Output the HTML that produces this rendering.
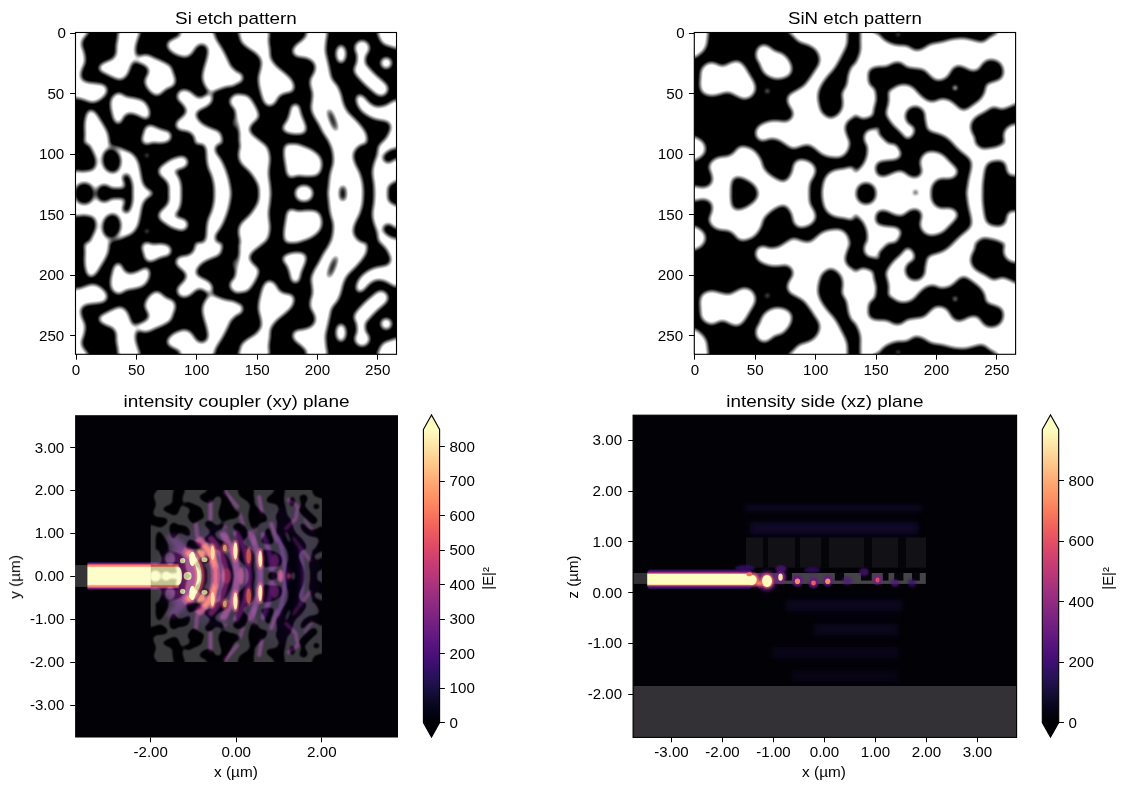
<!DOCTYPE html>
<html><head><meta charset="utf-8"><title>figure</title>
<style>
html,body{margin:0;padding:0;background:#fff;}
body{width:1124px;height:790px;overflow:hidden;}
svg{display:block;font-family:"Liberation Sans",sans-serif;fill:#000;}
</style></head><body>
<svg width="1124" height="790" viewBox="0 0 1124 790">
<rect x="0" y="0" width="1124" height="790" fill="#fff"/>
<defs>
<linearGradient id="magma" x1="0" y1="1" x2="0" y2="0">
<stop offset="0.00" stop-color="#000004"/>
<stop offset="0.05" stop-color="#06051a"/>
<stop offset="0.10" stop-color="#140e36"/>
<stop offset="0.15" stop-color="#251255"/>
<stop offset="0.20" stop-color="#3b0f70"/>
<stop offset="0.25" stop-color="#51127c"/>
<stop offset="0.30" stop-color="#641a80"/>
<stop offset="0.35" stop-color="#782281"/>
<stop offset="0.40" stop-color="#8c2981"/>
<stop offset="0.45" stop-color="#a1307e"/>
<stop offset="0.50" stop-color="#b73779"/>
<stop offset="0.55" stop-color="#ca3e72"/>
<stop offset="0.60" stop-color="#de4968"/>
<stop offset="0.65" stop-color="#ed5a5f"/>
<stop offset="0.70" stop-color="#f7705c"/>
<stop offset="0.75" stop-color="#fc8961"/>
<stop offset="0.80" stop-color="#fe9f6d"/>
<stop offset="0.85" stop-color="#feb77e"/>
<stop offset="0.90" stop-color="#fecf92"/>
<stop offset="0.95" stop-color="#fde7a9"/>
<stop offset="1.00" stop-color="#fcfdbf"/>
</linearGradient>
<filter id="sb12" filterUnits="userSpaceOnUse" x="140" y="480" width="195" height="192"><feGaussianBlur stdDeviation="1.3"/></filter>
<filter id="sb2" filterUnits="userSpaceOnUse" x="140" y="480" width="195" height="192"><feGaussianBlur stdDeviation="2.2"/></filter>
<filter id="b05" x="-50%" y="-50%" width="200%" height="200%"><feGaussianBlur stdDeviation="0.5"/></filter>
<filter id="b08" x="-50%" y="-50%" width="200%" height="200%"><feGaussianBlur stdDeviation="0.8"/></filter>
<filter id="b12" x="-50%" y="-50%" width="200%" height="200%"><feGaussianBlur stdDeviation="1.2"/></filter>
<filter id="b2" x="-50%" y="-50%" width="200%" height="200%"><feGaussianBlur stdDeviation="2.0"/></filter>
<filter id="b3" x="-50%" y="-50%" width="200%" height="200%"><feGaussianBlur stdDeviation="3.0"/></filter>
<filter id="b5" x="-50%" y="-50%" width="200%" height="200%"><feGaussianBlur stdDeviation="5.0"/></filter>
<filter id="b8" x="-50%" y="-50%" width="200%" height="200%"><feGaussianBlur stdDeviation="8.0"/></filter>
<clipPath id="ax3clip"><rect x="75.1" y="415.2" width="322.90" height="322.30"/></clipPath>
<clipPath id="ax4clip"><rect x="633.1" y="415.2" width="383.50" height="322.20"/></clipPath>
<clipPath id="dclip"><rect x="150.7" y="490.1" width="171.20" height="171.80"/></clipPath>
<linearGradient id="beamxy" x1="0" y1="0" x2="0" y2="1"><stop offset="0.0000" stop-color="#000004" stop-opacity="0"/><stop offset="0.0250" stop-color="#1d1147" stop-opacity="1"/><stop offset="0.0542" stop-color="#51127c" stop-opacity="1"/><stop offset="0.0833" stop-color="#b73779" stop-opacity="1"/><stop offset="0.1063" stop-color="#ee5b5e" stop-opacity="1"/><stop offset="0.1635" stop-color="#f9795d" stop-opacity="1"/><stop offset="0.1807" stop-color="#fec287" stop-opacity="1"/><stop offset="0.2118" stop-color="#fcfdbf" stop-opacity="1"/><stop offset="0.7882" stop-color="#fcfdbf" stop-opacity="1"/><stop offset="0.8193" stop-color="#fec287" stop-opacity="1"/><stop offset="0.8365" stop-color="#f9795d" stop-opacity="1"/><stop offset="0.8938" stop-color="#ee5b5e" stop-opacity="1"/><stop offset="0.9167" stop-color="#b73779" stop-opacity="1"/><stop offset="0.9458" stop-color="#51127c" stop-opacity="1"/><stop offset="0.9750" stop-color="#1d1147" stop-opacity="1"/><stop offset="1.0000" stop-color="#000004" stop-opacity="0"/></linearGradient>
<linearGradient id="beamxz" x1="0" y1="0" x2="0" y2="1"><stop offset="0.0000" stop-color="#000004" stop-opacity="0"/><stop offset="0.0614" stop-color="#1d1147" stop-opacity="1"/><stop offset="0.1330" stop-color="#51127c" stop-opacity="1"/><stop offset="0.2047" stop-color="#b73779" stop-opacity="1"/><stop offset="0.2140" stop-color="#ee5b5e" stop-opacity="1"/><stop offset="0.2372" stop-color="#f9795d" stop-opacity="1"/><stop offset="0.2442" stop-color="#fec287" stop-opacity="1"/><stop offset="0.2698" stop-color="#fcfdbf" stop-opacity="1"/><stop offset="0.7302" stop-color="#fcfdbf" stop-opacity="1"/><stop offset="0.7558" stop-color="#fec287" stop-opacity="1"/><stop offset="0.7628" stop-color="#f9795d" stop-opacity="1"/><stop offset="0.7860" stop-color="#ee5b5e" stop-opacity="1"/><stop offset="0.7953" stop-color="#b73779" stop-opacity="1"/><stop offset="0.8670" stop-color="#51127c" stop-opacity="1"/><stop offset="0.9386" stop-color="#1d1147" stop-opacity="1"/><stop offset="1.0000" stop-color="#000004" stop-opacity="0"/></linearGradient>
<radialGradient id="haze"><stop offset="0" stop-color="#641a80" stop-opacity="0.95"/><stop offset="0.45" stop-color="#51127c" stop-opacity="0.7"/><stop offset="0.8" stop-color="#3b0f70" stop-opacity="0.3"/><stop offset="1" stop-color="#140e36" stop-opacity="0"/></radialGradient>
</defs>
<rect x="75.5" y="32.5" width="321.00" height="321.80" fill="#fff"/>
<defs>
<clipPath id="si_ax"><rect x="75.5" y="32.5" width="321.00" height="321.80"/></clipPath>
<clipPath id="si_t0"><rect x="70" y="28" width="165.00" height="116.00"/></clipPath>
<clipPath id="si_t1"><rect x="235" y="28" width="165.00" height="116.00"/></clipPath>
<clipPath id="si_t2"><rect x="70" y="144" width="165.00" height="50.60"/></clipPath>
<clipPath id="si_t3"><rect x="235" y="144" width="165.00" height="50.60"/></clipPath>
<filter id="si_f" x="-5%" y="-5%" width="110%" height="110%" color-interpolation-filters="sRGB"><feGaussianBlur stdDeviation="2.8"/><feComponentTransfer><feFuncR type="linear" slope="1.5" intercept="-0.250"/><feFuncG type="linear" slope="1.5" intercept="-0.250"/><feFuncB type="linear" slope="1.5" intercept="-0.250"/></feComponentTransfer></filter>
<filter id="si_finv" x="-5%" y="-5%" width="110%" height="110%" color-interpolation-filters="sRGB"><feGaussianBlur stdDeviation="2.8"/><feComponentTransfer><feFuncR type="linear" slope="-1.5" intercept="1.250"/><feFuncG type="linear" slope="-1.5" intercept="1.250"/><feFuncB type="linear" slope="-1.5" intercept="1.250"/></feComponentTransfer></filter>
<g id="si_half">
<g clip-path="url(#si_t0)">
<path d="M72.2 29.2C74.9 17.9 86.2 28.2 88.5 29.2C90.9 30.1 87.3 33.2 86.4 34.8C85.4 36.5 83.7 37.5 82.8 39.1C82.0 40.8 81.2 42.4 81.4 44.8C81.6 47.2 83.7 50.5 84.3 53.4C84.8 56.2 85.4 59.0 85.0 61.9C84.5 64.7 82.1 67.8 81.4 70.4C80.7 73.0 80.1 75.7 80.7 77.6C81.3 79.4 82.8 80.9 85.0 81.8C87.1 82.8 90.4 82.8 93.5 83.2C96.6 83.7 101.2 83.7 103.5 84.7C105.7 85.6 106.7 87.3 107.0 88.9C107.4 90.6 106.9 92.7 105.6 94.6C104.3 96.5 101.5 99.0 99.2 100.3C96.9 101.6 94.7 102.6 92.1 102.5C89.5 102.3 86.4 100.5 83.5 99.6C80.7 98.7 76.9 97.7 75.0 97.2C73.1 96.7 72.6 108.1 72.2 96.8C71.7 85.4 69.4 40.4 72.2 29.2Z" fill="#fff"/>
<path d="M120.6 29.2C124.1 27.5 136.2 27.5 139.1 29.2C141.9 30.8 138.2 36.3 137.6 39.1C137.0 42.0 135.9 43.9 135.5 46.2C135.1 48.6 135.3 51.3 135.5 53.4C135.7 55.4 137.1 56.7 136.5 58.3C135.9 60.0 133.2 61.3 131.9 63.3C130.7 65.3 130.0 68.3 129.1 70.4C128.1 72.6 127.7 74.6 126.2 76.1C124.8 77.7 122.7 79.4 120.6 79.7C118.4 79.9 116.0 78.6 113.4 77.6C110.8 76.5 107.3 74.6 104.9 73.3C102.5 72.0 100.0 71.0 99.2 69.7C98.4 68.4 98.8 66.8 99.9 65.5C101.0 64.1 103.5 63.0 105.6 61.9C107.7 60.8 110.9 60.5 112.7 59.0C114.5 57.6 115.7 55.5 116.3 53.4C116.9 51.2 116.0 48.6 116.3 46.2C116.5 43.9 117.0 42.0 117.7 39.1C118.4 36.3 117.0 30.8 120.6 29.2Z" fill="#fff"/>
<path d="M136.5 57.6C138.3 56.6 143.1 54.7 146.2 54.8C149.2 54.9 151.9 57.1 154.7 58.3C157.6 59.5 160.6 60.6 163.3 61.9C165.9 63.2 168.7 64.3 170.4 66.2C172.0 68.1 172.4 70.9 173.2 73.3C174.1 75.7 175.4 78.3 175.4 80.4C175.4 82.5 174.8 84.7 173.2 86.1C171.7 87.5 168.2 87.6 166.1 88.9C164.0 90.2 162.1 92.9 160.4 93.9C158.7 95.0 157.8 95.7 156.1 95.3C154.5 95.0 152.1 93.3 150.4 91.8C148.8 90.2 147.1 88.0 146.2 86.1C145.2 84.2 144.5 82.3 144.8 80.4C145.0 78.5 146.9 76.4 147.6 74.7C148.3 73.0 149.3 71.9 149.0 70.4C148.8 69.0 147.6 67.3 146.2 66.2C144.8 65.0 142.3 64.1 140.5 63.3C138.7 62.5 136.2 62.1 135.5 61.2C134.8 60.2 134.7 58.7 136.5 57.6Z" fill="#fff"/>
<path d="M181.0 29.2C185.9 28.2 204.4 27.5 210.2 29.2C216.0 30.8 213.8 35.6 215.9 39.1C218.1 42.7 220.9 46.7 223.0 50.5C225.2 54.3 227.3 59.0 228.7 61.9C230.2 64.7 229.7 65.7 231.6 67.6C233.5 69.5 238.7 70.6 240.1 73.3C241.5 76.0 242.5 81.7 240.1 84.0C237.8 86.2 229.9 85.7 225.9 86.8C221.9 87.9 218.5 89.5 215.9 90.4C213.3 91.2 212.1 93.0 210.2 92.1C208.3 91.1 205.8 87.1 204.5 84.7C203.2 82.2 202.5 80.2 202.4 77.6C202.3 74.9 203.1 72.1 203.8 69.0C204.5 65.9 206.0 62.1 206.7 59.0C207.4 56.0 208.2 52.8 208.1 50.5C208.0 48.3 207.1 46.6 206.0 45.5C204.8 44.5 202.6 43.9 201.0 44.1C199.3 44.3 197.5 45.4 196.0 46.9C194.5 48.5 193.4 51.7 191.7 53.4C190.1 55.0 188.2 56.6 186.0 56.9C183.9 57.3 181.3 56.3 178.9 55.5C176.5 54.7 173.7 53.4 171.8 51.9C169.9 50.5 168.1 48.6 167.5 46.9C166.9 45.3 167.1 43.4 168.2 42.0C169.4 40.5 172.5 39.6 174.6 38.4C176.8 37.2 180.0 36.4 181.0 34.8C182.1 33.3 176.2 30.1 181.0 29.2Z" fill="#fff"/>
<path d="M177.5 94.6C177.8 93.3 178.4 91.9 179.6 91.1C180.8 90.2 182.8 89.5 184.6 89.7C186.4 89.8 188.4 90.6 190.3 91.8C192.2 93.0 194.3 95.7 196.0 96.8C197.7 97.8 198.6 98.4 200.3 98.2C201.9 98.0 204.3 96.2 206.0 95.3C207.6 94.5 209.2 92.8 210.2 92.9C211.3 93.0 212.1 94.6 212.4 96.1C212.6 97.5 212.5 100.1 211.7 101.8C210.8 103.4 209.3 104.7 207.4 106.0C205.5 107.3 202.2 108.4 200.3 109.6C198.4 110.8 196.5 111.6 196.0 113.1C195.5 114.7 196.2 116.9 197.4 118.8C198.6 120.7 200.7 122.9 203.1 124.5C205.5 126.2 209.0 127.6 211.7 128.8C214.3 130.0 217.1 130.2 218.8 131.6C220.4 133.1 221.4 134.3 221.6 137.3C221.9 140.4 224.2 148.0 220.2 150.1C216.2 152.3 201.7 152.3 197.4 150.1C193.1 148.0 196.0 140.4 194.6 137.3C193.1 134.3 191.3 132.8 188.9 131.6C186.5 130.5 182.5 131.1 180.3 130.2C178.2 129.4 176.7 128.1 176.1 126.7C175.5 125.2 175.8 123.2 176.8 121.7C177.7 120.1 180.2 118.8 181.8 117.4C183.3 116.0 185.3 114.6 186.0 113.1C186.7 111.7 186.7 110.5 186.0 108.9C185.3 107.2 183.2 104.8 181.8 103.2C180.3 101.5 178.2 100.3 177.5 98.9C176.8 97.5 177.1 95.9 177.5 94.6Z" fill="#fff"/>
<path d="M110.6 106.0C110.5 103.6 110.5 100.9 111.3 98.9C112.1 96.9 114.0 94.9 115.6 93.9C117.1 93.0 118.8 92.7 120.6 93.2C122.3 93.7 123.9 95.9 126.2 96.8C128.6 97.6 131.9 97.5 134.8 98.2C137.6 98.9 141.1 99.5 143.3 101.0C145.6 102.6 147.2 105.2 148.3 107.4C149.4 109.7 149.9 112.7 149.7 114.6C149.6 116.5 148.7 118.2 147.6 118.8C146.5 119.4 145.2 118.8 143.3 118.1C141.4 117.4 138.6 115.4 136.2 114.6C133.8 113.7 131.1 112.9 129.1 113.1C127.1 113.4 125.4 114.6 124.1 116.0C122.8 117.4 122.3 120.4 121.3 121.7C120.2 123.0 118.9 124.1 117.7 123.8C116.5 123.6 115.1 122.0 114.1 120.3C113.2 118.5 112.6 115.5 112.0 113.1C111.4 110.8 110.7 108.4 110.6 106.0Z" fill="#fff"/>
<path d="M85.7 117.4C86.2 115.3 86.9 112.9 87.8 111.7C88.8 110.5 89.9 109.7 91.4 110.0C92.8 110.4 94.7 111.9 96.4 113.9C98.0 115.8 99.7 119.0 101.3 121.7C103.0 124.4 105.1 127.6 106.3 130.2C107.5 132.8 108.2 134.0 108.5 137.3C108.7 140.7 111.4 148.0 107.7 150.1C104.1 152.3 90.2 152.8 86.4 150.1C82.6 147.5 85.2 138.8 85.0 134.5C84.7 130.2 84.6 127.4 84.7 124.5C84.8 121.7 85.2 119.5 85.7 117.4Z" fill="#fff"/>
<path d="M143.3 134.5C143.9 132.4 144.3 128.9 145.5 127.4C146.6 125.8 148.7 125.2 150.4 125.2C152.2 125.2 154.0 126.5 156.1 127.4C158.3 128.2 161.1 129.5 163.3 130.2C165.4 130.9 167.6 130.7 169.0 131.6C170.3 132.6 171.1 134.4 171.1 135.9C171.1 137.5 170.7 139.7 169.0 140.9C167.2 142.1 163.3 142.8 160.4 143.0C157.6 143.3 154.2 141.8 151.9 142.3C149.5 142.8 147.8 146.2 146.2 145.9C144.5 145.5 142.4 142.1 141.9 140.2C141.4 138.3 142.7 136.6 143.3 134.5Z" fill="#fff"/>
<path d="M240.1 94.6C238.9 92.4 234.7 95.1 233.0 96.1C231.3 97.0 230.1 98.7 229.9 100.3C229.6 102.0 229.9 104.5 231.6 106.0C233.3 107.6 238.7 111.5 240.1 109.6C241.5 107.7 241.3 96.9 240.1 94.6Z" fill="#fff"/>
<path d="M240.1 116.0C239.2 113.6 235.6 116.0 234.4 117.4C233.3 118.8 233.2 122.4 233.3 124.5C233.4 126.7 234.0 129.0 235.1 130.2C236.3 131.4 239.3 134.0 240.1 131.6C241.0 129.3 241.1 118.4 240.1 116.0Z" fill="#fff"/>
</g>
<g clip-path="url(#si_t1)">
<path d="M240.0 29.2C244.5 28.0 262.3 27.3 267.0 29.2C271.8 31.1 268.0 37.0 268.5 40.5C268.9 44.1 269.5 47.5 269.9 50.5C270.2 53.5 269.5 55.7 270.6 58.3C271.7 60.9 273.9 63.7 276.3 66.2C278.7 68.7 282.2 70.9 284.8 73.3C287.4 75.7 290.4 78.0 291.9 80.4C293.5 82.8 294.1 85.6 294.1 87.5C294.1 89.4 293.5 90.8 291.9 91.8C290.4 92.7 287.0 92.5 284.8 93.2C282.7 93.9 280.8 94.4 279.1 96.1C277.5 97.7 276.5 101.5 274.9 103.2C273.2 104.8 270.9 106.1 269.2 106.0C267.4 105.9 265.5 104.4 264.2 102.5C262.9 100.6 262.2 97.4 261.3 94.6C260.5 91.9 259.7 88.9 259.2 86.1C258.7 83.2 258.3 80.4 258.5 77.6C258.7 74.7 260.1 71.9 260.6 69.0C261.1 66.2 262.0 63.1 261.3 60.5C260.6 57.9 258.6 55.5 256.4 53.4C254.1 51.2 250.3 49.6 247.8 47.7C245.3 45.8 242.7 43.9 241.4 42.0C240.1 40.1 240.2 38.4 240.0 36.3C239.7 34.1 235.5 30.3 240.0 29.2Z" fill="#fff"/>
<path d="M230.7 73.3C232.2 71.4 237.3 72.0 239.3 72.6C241.3 73.2 242.5 75.3 242.8 76.8C243.2 78.4 242.7 80.6 241.4 81.8C240.1 83.0 236.8 83.6 235.0 84.0C233.2 84.3 231.4 85.7 230.7 84.0C230.0 82.2 229.3 75.2 230.7 73.3Z" fill="#fff"/>
<path d="M232.2 94.6C233.6 92.5 238.1 94.4 240.7 94.6C243.3 94.9 245.7 94.6 247.8 96.1C249.9 97.5 251.8 100.6 253.5 103.2C255.2 105.8 256.9 109.3 257.8 111.7C258.6 114.1 259.3 115.5 258.5 117.4C257.7 119.3 254.3 121.2 252.8 123.1C251.3 125.0 249.4 126.9 249.2 128.8C249.1 130.7 250.4 132.6 252.1 134.5C253.7 136.4 256.9 138.3 259.2 140.2C261.5 142.1 264.5 144.2 265.6 145.9C266.7 147.5 269.5 149.4 265.6 150.1C261.7 150.9 246.5 153.2 242.1 150.1C237.7 147.1 240.2 137.1 239.3 131.6C238.3 126.2 237.3 121.4 236.4 117.4C235.6 113.4 235.0 109.1 234.3 107.4C233.6 105.8 232.5 109.6 232.2 107.4C231.8 105.3 230.7 96.8 232.2 94.6Z" fill="#fff"/>
<path d="M294.8 103.9C296.1 103.8 298.0 104.2 299.1 106.0C300.1 107.8 300.2 111.7 301.2 114.6C302.1 117.4 303.9 120.5 304.8 123.1C305.6 125.7 306.6 128.4 306.2 130.2C305.7 132.0 304.3 133.2 301.9 133.8C299.5 134.4 294.9 134.3 291.9 133.8C289.0 133.3 285.7 132.1 284.1 130.9C282.6 129.7 282.2 128.3 282.7 126.7C283.2 125.0 285.8 123.2 287.0 121.0C288.1 118.7 289.1 115.5 289.8 113.1C290.5 110.8 290.4 108.3 291.2 106.7C292.1 105.2 293.5 104.0 294.8 103.9Z" fill="#fff"/>
<path d="M306.9 29.2C310.1 28.2 322.9 27.3 326.1 29.2C329.3 31.1 326.2 37.0 326.1 40.5C326.0 44.1 325.2 47.2 325.4 50.5C325.6 53.8 326.8 57.1 327.5 60.5C328.2 63.8 329.0 67.3 329.7 70.4C330.4 73.5 330.5 76.4 331.8 79.0C333.1 81.6 335.9 83.5 337.5 86.1C339.0 88.7 340.1 91.8 341.0 94.6C342.0 97.5 342.1 100.3 343.2 103.2C344.3 106.0 345.3 108.9 347.5 111.7C349.6 114.6 353.4 117.4 356.0 120.3C358.6 123.1 361.3 126.2 363.1 128.8C364.9 131.4 366.1 133.3 366.7 135.9C367.3 138.5 366.8 142.1 366.7 144.5C366.6 146.8 371.8 149.2 366.0 150.1C360.1 151.1 338.0 151.6 331.8 150.1C325.6 148.7 330.4 144.5 329.0 141.6C327.5 138.8 324.9 135.9 323.3 133.1C321.6 130.2 320.4 127.1 319.0 124.5C317.6 121.9 316.0 120.0 314.7 117.4C313.4 114.8 311.6 111.5 311.2 108.9C310.7 106.3 311.6 104.4 311.9 101.8C312.1 99.1 312.8 95.8 312.6 93.2C312.3 90.6 310.8 88.5 310.4 86.1C310.1 83.7 309.9 81.1 310.4 79.0C311.0 76.8 313.2 75.4 314.0 73.3C314.8 71.1 315.8 68.3 315.4 66.2C315.1 64.0 313.6 61.9 311.9 60.5C310.1 59.0 307.4 58.3 304.8 57.6C302.1 56.9 298.2 57.1 296.2 56.2C294.2 55.3 292.9 53.6 292.7 51.9C292.4 50.3 293.2 48.1 294.8 46.2C296.3 44.3 299.9 42.4 301.9 40.5C303.9 38.6 306.1 36.7 306.9 34.8C307.7 32.9 303.7 30.1 306.9 29.2Z" fill="#fff"/>
<ellipse cx="332.5" cy="120.0" rx="2.7" ry="12.1" fill="#000" transform="rotate(-21 332.5 120.0)"/>
<path d="M356.0 98.9C356.0 96.8 357.5 95.0 358.8 94.6C360.1 94.3 362.2 95.5 363.8 96.8C365.5 98.1 366.8 100.8 368.8 102.5C370.8 104.1 373.3 106.1 375.9 106.7C378.5 107.3 380.4 106.7 384.5 106.0C388.5 105.3 397.5 95.1 400.1 102.5C402.7 109.8 403.9 142.2 400.1 150.1C396.3 158.1 380.9 150.9 377.3 150.1C373.8 149.4 377.3 147.5 378.8 145.6C380.2 143.6 384.0 141.0 385.9 138.5C387.8 135.9 389.3 132.3 390.2 130.2C391.0 128.1 391.2 127.4 390.9 126.0C390.5 124.5 389.3 122.6 388.0 121.7C386.7 120.8 385.3 121.0 383.0 120.5C380.8 120.1 377.3 119.8 374.5 118.8C371.7 117.8 368.6 116.5 366.0 114.6C363.4 112.7 360.5 110.1 358.8 107.4C357.2 104.8 356.0 101.0 356.0 98.9Z" fill="#fff"/>
<ellipse cx="341.0" cy="54.1" rx="5.0" ry="9.0" fill="#fff"/>
<ellipse cx="362.1" cy="48.1" rx="7.5" ry="7.5" fill="#fff"/>
<path d="M361.4 53.4C361.3 55.5 360.8 64.0 360.7 66.2" fill="none" stroke="#fff" stroke-width="8.26" stroke-linecap="round" stroke-linejoin="round"/>
<path d="M361.0 69.7C362.5 71.4 366.9 76.5 370.2 79.7C373.6 82.9 379.1 87.4 380.9 88.9" fill="none" stroke="#fff" stroke-width="14.23" stroke-linecap="round" stroke-linejoin="round"/>
<ellipse cx="386.2" cy="63.0" rx="5.6" ry="5.6" fill="#fff"/>
<path d="M378.8 29.2C375.3 30.6 378.8 35.3 379.5 37.7C380.2 40.1 381.3 42.0 383.0 43.4C384.8 44.8 387.3 45.5 390.2 46.2C393.0 46.9 398.5 50.5 400.1 47.7C401.8 44.8 403.7 32.2 400.1 29.2C396.6 26.1 382.2 27.7 378.8 29.2Z" fill="#fff"/>
</g>
<g clip-path="url(#si_t2)">
<path d="M72.2 173.4C74.1 168.0 80.0 172.3 83.5 171.7C87.1 171.1 91.4 171.1 93.5 169.6C95.6 168.1 96.1 165.1 96.4 162.7C96.6 160.4 95.9 158.2 94.9 155.6C94.0 153.0 92.0 149.9 90.7 147.1C89.4 144.2 87.9 141.9 87.1 138.5C86.3 135.2 82.1 129.1 85.7 127.2C89.2 125.3 104.7 125.5 108.5 127.2C112.2 128.8 108.6 134.3 108.5 137.1C108.3 140.0 105.7 142.5 107.5 144.2C109.2 146.0 116.4 146.8 119.1 147.8C121.9 148.7 121.9 149.0 124.0 149.9C126.1 150.8 129.4 151.4 131.7 153.2C133.9 155.0 136.2 157.8 137.6 160.9C139.1 164.0 139.5 168.1 140.3 171.7C141.1 175.3 141.4 179.8 142.5 182.7C143.6 185.6 145.3 187.4 146.9 189.1C148.5 190.7 151.0 190.1 151.9 192.6C152.7 195.1 165.2 202.1 151.9 204.0C138.6 205.9 85.4 209.1 72.2 204.0C58.9 198.9 70.3 178.8 72.2 173.4Z" fill="#fff"/>
<ellipse cx="111.6" cy="160.6" rx="9.5" ry="12.5" fill="#000" transform="rotate(-8 111.6 160.6)"/>
<ellipse cx="84.3" cy="192.6" rx="10.2" ry="10.2" fill="#000"/>
<ellipse cx="104.2" cy="192.6" rx="8.1" ry="8.1" fill="#000"/>
<path d="M126.2 177.7C126.7 179.1 128.5 181.8 128.8 186.2C129.2 190.6 128.5 201.1 128.4 204.0" fill="none" stroke="#000" stroke-width="7.97" stroke-linecap="round" stroke-linejoin="round"/>
<path d="M110.6 192.6C113.4 192.6 124.8 192.6 127.7 192.6" fill="none" stroke="#000" stroke-width="9.11" stroke-linecap="round" stroke-linejoin="round"/>
<path d="M143.3 124.3C147.9 121.9 165.8 122.6 170.4 124.3C174.9 126.0 171.1 131.5 170.7 134.3C170.2 137.0 169.2 139.4 167.5 140.7C165.8 142.0 163.0 141.9 160.4 142.1C157.8 142.3 154.2 141.7 151.9 142.1C149.5 142.5 147.6 144.8 146.2 144.2C144.7 143.6 143.5 141.9 143.0 138.5C142.6 135.2 138.8 126.7 143.3 124.3Z" fill="#fff"/>
<path d="M182.0 162.2C180.6 162.6 176.2 163.4 173.2 164.9C170.3 166.4 165.9 170.2 164.4 171.3" fill="none" stroke="#fff" stroke-width="11.67" stroke-linecap="round" stroke-linejoin="round"/>
<path d="M166.1 172.0C167.3 173.3 171.7 177.3 173.2 179.8C174.7 182.3 174.8 182.9 175.1 186.9C175.3 191.0 174.7 201.2 174.6 204.0" fill="none" stroke="#fff" stroke-width="12.24" stroke-linecap="round" stroke-linejoin="round"/>
<path d="M198.8 127.2C195.5 129.1 199.8 135.0 201.0 138.5C202.2 142.1 205.0 145.2 206.0 148.5C206.9 151.8 206.3 155.4 206.7 158.5C207.0 161.6 207.3 164.2 208.1 167.0C208.9 169.9 210.7 172.7 211.7 175.6C212.6 178.4 213.3 181.1 213.8 184.1C214.3 187.1 214.4 190.0 214.5 193.3C214.6 196.7 211.8 202.2 214.5 204.0C217.2 205.8 228.1 205.8 230.9 204.0C233.6 202.2 231.0 196.2 230.9 193.3C230.8 190.5 230.6 189.7 230.2 186.9C229.7 184.2 229.0 180.3 228.0 177.0C227.1 173.7 225.8 170.1 224.5 167.0C223.2 163.9 221.7 161.1 220.2 158.5C218.7 155.9 215.9 153.5 215.2 151.4C214.5 149.2 215.1 147.8 215.9 145.7C216.8 143.5 219.4 141.6 220.2 138.5C221.0 135.5 224.5 129.1 220.9 127.2C217.3 125.3 202.2 125.3 198.8 127.2Z" fill="#fff"/>
</g>
<g clip-path="url(#si_t3)">
<path d="M241.4 125.7C242.8 124.5 246.3 126.2 249.2 128.6C252.2 130.9 256.2 136.9 259.2 140.0C262.2 143.0 265.2 144.0 267.0 147.1C268.8 150.2 269.6 154.2 269.9 158.5C270.1 162.7 268.5 168.4 268.5 172.7C268.5 177.0 269.5 180.7 269.9 184.1C270.2 187.5 270.5 190.0 270.6 193.3C270.7 196.7 272.5 202.2 270.6 204.0C268.7 205.8 261.1 205.8 259.2 204.0C257.3 202.2 259.4 196.7 259.2 193.3C259.0 190.0 259.2 187.5 257.8 184.1C256.4 180.7 253.5 176.3 250.7 172.7C247.8 169.1 242.7 165.8 240.7 162.7C238.7 159.7 238.6 157.3 238.6 154.2C238.6 151.1 240.3 147.3 240.7 144.2C241.0 141.2 240.6 138.8 240.7 135.7C240.8 132.6 240.0 126.9 241.4 125.7Z" fill="#fff"/>
<path d="M284.1 148.5C284.5 146.4 284.9 145.2 286.2 144.2C287.6 143.3 289.3 142.6 291.9 142.8C294.5 143.0 298.6 144.5 301.9 145.7C305.2 146.8 309.0 148.3 311.9 149.9C314.7 151.6 317.3 153.5 319.0 155.6C320.6 157.8 321.6 160.1 321.8 162.7C322.1 165.3 321.4 169.1 320.4 171.3C319.5 173.4 318.5 174.7 316.1 175.6C313.8 176.4 309.3 176.3 306.2 176.3C303.1 176.3 300.2 175.3 297.6 175.6C295.0 175.8 292.3 177.9 290.5 177.7C288.7 177.4 287.8 176.1 287.0 174.1C286.1 172.1 286.0 168.4 285.5 165.6C285.1 162.7 284.3 159.9 284.1 157.0C283.9 154.2 283.8 150.6 284.1 148.5Z" fill="#fff"/>
<ellipse cx="304.0" cy="192.6" rx="8.8" ry="7.4" fill="#fff"/>
<path d="M319.0 124.6C306.2 126.0 321.6 130.3 323.3 133.1C324.9 136.0 327.4 138.6 329.0 141.7C330.5 144.7 331.8 147.8 332.5 151.4C333.2 154.9 333.6 159.2 333.2 162.7C332.9 166.3 331.1 169.4 330.4 172.7C329.7 176.0 329.3 179.3 329.0 182.7C328.6 186.0 328.4 189.1 328.2 192.6C328.1 196.2 316.3 202.1 328.2 204.0C340.2 205.9 388.1 217.3 400.1 204.0C412.1 190.8 413.6 137.8 400.1 124.6C386.6 111.4 331.8 123.2 319.0 124.6Z" fill="#fff"/>
<path d="M383.8 124.3C386.2 125.0 390.5 126.2 390.9 128.6C391.2 130.9 387.9 135.7 385.9 138.5C383.9 141.4 380.2 143.0 378.8 145.7C377.3 148.3 378.2 151.1 377.3 154.2C376.5 157.3 374.6 161.1 373.8 164.2C373.0 167.2 372.4 169.6 372.4 172.7C372.4 175.8 373.4 179.3 373.8 182.7C374.1 186.0 374.4 189.1 374.5 192.6C374.6 196.2 376.4 202.1 374.5 204.0C372.6 205.9 365.0 205.9 363.1 204.0C361.2 202.1 363.2 196.2 363.1 192.6C363.0 189.1 363.0 186.0 362.4 182.7C361.8 179.3 360.7 175.8 359.6 172.7C358.4 169.6 356.4 167.0 355.3 164.2C354.2 161.3 353.0 158.2 353.1 155.6C353.3 153.0 354.3 150.6 356.0 148.5C357.7 146.4 361.3 144.9 363.1 142.8C364.9 140.7 366.0 138.1 366.7 135.7C367.4 133.3 365.8 130.5 367.4 128.6C368.9 126.7 373.2 125.0 375.9 124.3C378.7 123.6 381.3 123.6 383.8 124.3Z" fill="#000"/>
<ellipse cx="342.8" cy="192.6" rx="3.4" ry="7.1" fill="#000"/>
<path d="M400.1 152.8C398.9 153.0 395.0 153.4 393.0 154.2C391.0 155.0 388.9 157.2 388.0 157.8" fill="none" stroke="#000" stroke-width="10.68" stroke-linecap="round" stroke-linejoin="round"/>
<path d="M400.1 182.0C398.7 178.5 393.6 182.6 391.6 183.4C389.6 184.2 388.7 185.4 388.0 186.9C387.4 188.5 387.7 189.8 387.6 192.6C387.5 195.5 385.5 202.1 387.6 204.0C389.7 205.9 398.0 207.7 400.1 204.0C402.2 200.3 401.5 185.4 400.1 182.0Z" fill="#000"/>
</g>
</g>
<g id="si_full">
<rect x="65.5" y="22.5" width="341.00" height="341.80" fill="#000"/>
<use href="#si_half"/>
<use href="#si_half" transform="translate(0 386.80) scale(1 -1)"/>
</g>
</defs>
<g clip-path="url(#si_ax)"><g filter="url(#si_f)"><use href="#si_full"/></g></g>
<circle cx="146.9" cy="155.6" r="2.0" fill="#3c3c3c" filter="url(#b08)"/>
<circle cx="146.9" cy="231.2" r="2.0" fill="#3c3c3c" filter="url(#b08)"/>
<rect x="75.5" y="32.5" width="321.00" height="321.80" fill="none" stroke="#000" stroke-width="1.11"/>
<line x1="76.50" y1="354.30" x2="76.50" y2="359.66" stroke="#000" stroke-width="1"/>
<line x1="70.14" y1="33.50" x2="75.50" y2="33.50" stroke="#000" stroke-width="1"/>
<line x1="136.50" y1="354.30" x2="136.50" y2="359.66" stroke="#000" stroke-width="1"/>
<line x1="70.14" y1="93.50" x2="75.50" y2="93.50" stroke="#000" stroke-width="1"/>
<line x1="196.50" y1="354.30" x2="196.50" y2="359.66" stroke="#000" stroke-width="1"/>
<line x1="70.14" y1="154.50" x2="75.50" y2="154.50" stroke="#000" stroke-width="1"/>
<line x1="257.50" y1="354.30" x2="257.50" y2="359.66" stroke="#000" stroke-width="1"/>
<line x1="70.14" y1="214.50" x2="75.50" y2="214.50" stroke="#000" stroke-width="1"/>
<line x1="317.50" y1="354.30" x2="317.50" y2="359.66" stroke="#000" stroke-width="1"/>
<line x1="70.14" y1="275.50" x2="75.50" y2="275.50" stroke="#000" stroke-width="1"/>
<line x1="377.50" y1="354.30" x2="377.50" y2="359.66" stroke="#000" stroke-width="1"/>
<line x1="70.14" y1="335.50" x2="75.50" y2="335.50" stroke="#000" stroke-width="1"/>
<rect x="694.3" y="32.5" width="321.30" height="321.80" fill="#fff"/>
<defs>
<clipPath id="sin_ax"><rect x="694.3" y="32.5" width="321.30" height="321.80"/></clipPath>
<clipPath id="sin_t0"><rect x="690" y="28" width="164.00" height="116.00"/></clipPath>
<clipPath id="sin_t1"><rect x="854" y="28" width="166.00" height="116.00"/></clipPath>
<clipPath id="sin_t2"><rect x="690" y="144" width="164.00" height="50.60"/></clipPath>
<clipPath id="sin_t3"><rect x="854" y="144" width="166.00" height="50.60"/></clipPath>
<filter id="sin_f" x="-5%" y="-5%" width="110%" height="110%" color-interpolation-filters="sRGB"><feGaussianBlur stdDeviation="2.8"/><feComponentTransfer><feFuncR type="linear" slope="1.5" intercept="-0.250"/><feFuncG type="linear" slope="1.5" intercept="-0.250"/><feFuncB type="linear" slope="1.5" intercept="-0.250"/></feComponentTransfer></filter>
<filter id="sin_finv" x="-5%" y="-5%" width="110%" height="110%" color-interpolation-filters="sRGB"><feGaussianBlur stdDeviation="2.8"/><feComponentTransfer><feFuncR type="linear" slope="-1.5" intercept="1.250"/><feFuncG type="linear" slope="-1.5" intercept="1.250"/><feFuncB type="linear" slope="-1.5" intercept="1.250"/></feComponentTransfer></filter>
<g id="sin_half">
<g clip-path="url(#sin_t0)">
<path d="M691.2 29.2C693.8 24.5 704.4 27.7 707.1 29.2C709.8 30.6 707.7 34.8 707.5 37.7C707.4 40.5 707.2 43.7 706.1 46.2C705.0 48.8 703.6 51.3 701.1 53.1C698.6 54.8 692.8 60.9 691.2 56.9C689.5 52.9 688.5 33.8 691.2 29.2Z" fill="#fff"/>
<path d="M700.4 79.0C700.6 76.6 700.3 72.8 701.1 70.4C701.9 68.1 703.5 66.0 705.4 64.7C707.3 63.4 709.7 62.4 712.5 62.6C715.4 62.8 719.4 66.2 722.5 66.2C725.6 66.2 728.4 63.4 731.0 62.6C733.6 61.8 736.0 60.7 738.1 61.2C740.3 61.7 741.9 63.2 743.8 65.5C745.7 67.7 747.7 71.7 749.5 74.7C751.3 77.7 753.5 80.6 754.5 83.2C755.4 85.9 755.8 88.1 755.2 90.4C754.6 92.6 752.8 95.3 750.9 96.8C749.0 98.2 746.2 99.0 743.8 98.9C741.4 98.8 739.1 97.1 736.7 96.1C734.3 95.0 732.0 93.0 729.6 92.5C727.2 92.0 724.8 92.7 722.5 93.2C720.1 93.7 717.7 95.0 715.4 95.3C713.0 95.7 710.5 95.9 708.2 95.3C706.0 94.8 703.2 93.6 701.8 91.8C700.5 90.0 700.2 86.8 700.0 84.7C699.7 82.5 700.2 81.3 700.4 79.0Z" fill="#fff"/>
<path d="M755.9 53.4C756.2 51.5 756.8 49.1 758.1 47.7C759.4 46.2 761.9 44.9 763.8 44.8C765.6 44.7 767.5 45.9 769.4 46.9C771.3 48.0 773.0 50.1 775.1 51.2C777.3 52.3 780.1 52.0 782.3 53.4C784.4 54.7 786.4 56.9 788.0 59.0C789.5 61.2 791.0 63.8 791.5 66.2C792.0 68.5 791.9 71.4 790.8 73.3C789.7 75.2 787.5 76.6 785.1 77.6C782.7 78.5 779.4 79.2 776.6 79.0C773.7 78.7 770.4 77.6 768.0 76.1C765.6 74.7 763.8 72.6 762.3 70.4C760.9 68.3 760.4 65.2 759.5 63.3C758.5 61.4 757.2 60.7 756.6 59.0C756.0 57.4 755.7 55.3 755.9 53.4Z" fill="#fff"/>
<path d="M792.2 29.2C781.3 30.3 792.5 34.1 793.6 36.3C794.8 38.4 797.0 40.5 799.3 42.0C801.7 43.4 805.3 43.6 807.9 44.8C810.5 46.0 813.1 47.2 815.0 49.1C816.9 51.0 818.6 53.8 819.3 56.2C820.0 58.6 820.0 60.9 819.3 63.3C818.6 65.7 816.7 67.8 815.0 70.4C813.3 73.0 811.2 76.4 809.3 79.0C807.4 81.6 805.7 84.2 803.6 86.1C801.5 88.0 798.9 88.9 796.5 90.4C794.1 91.8 790.9 93.0 789.4 94.6C787.8 96.3 787.2 98.4 787.2 100.3C787.2 102.2 788.4 104.1 789.4 106.0C790.3 107.9 792.5 109.8 792.9 111.7C793.4 113.6 793.3 115.7 792.2 117.4C791.2 119.1 788.7 121.1 786.5 121.7C784.4 122.3 782.0 121.1 779.4 121.0C776.8 120.8 774.0 120.4 770.9 121.0C767.8 121.6 763.4 123.0 760.9 124.5C758.4 126.1 756.6 128.1 755.9 130.2C755.2 132.4 755.6 135.6 756.6 137.3C757.7 139.1 760.0 140.7 762.3 140.9C764.7 141.1 768.0 138.6 770.9 138.5C773.7 138.4 776.8 139.0 779.4 140.2C782.0 141.4 785.3 144.2 786.5 145.9C787.7 147.5 774.4 149.4 786.5 150.1C798.6 150.9 847.0 170.3 859.1 150.1C871.2 130.0 870.3 49.3 859.1 29.2C848.0 9.0 803.1 28.0 792.2 29.2Z" fill="#fff"/>
<path d="M848.4 29.2C846.4 31.5 848.1 39.1 847.0 43.4C846.0 47.7 844.1 50.7 842.0 54.8C840.0 58.8 837.5 63.8 834.9 67.6C832.3 71.4 828.9 74.2 826.4 77.6C823.9 80.9 821.4 84.4 820.0 87.5C818.6 90.6 818.0 93.0 817.8 96.1C817.7 99.1 818.6 103.2 819.3 106.0C820.0 108.9 820.5 111.1 822.1 113.1C823.8 115.2 826.9 117.6 829.2 118.1C831.6 118.6 834.2 117.5 836.3 116.0C838.5 114.4 841.0 111.5 842.0 108.9C843.1 106.3 842.8 102.9 842.8 100.3C842.8 97.7 841.4 95.6 842.0 93.2C842.6 90.8 845.4 88.5 846.3 86.1C847.3 83.7 847.3 81.3 847.7 79.0C848.2 76.6 848.1 74.5 849.2 71.9C850.2 69.2 852.3 65.2 854.0 63.3C855.7 61.4 858.3 66.2 859.1 60.5C860.0 54.8 860.9 34.4 859.1 29.2C857.3 23.9 850.5 26.8 848.4 29.2Z" fill="#000"/>
<path d="M859.1 116.0C858.3 110.5 855.8 116.7 854.0 117.4C852.2 118.1 850.0 118.6 848.4 120.3C846.9 121.9 845.1 124.8 844.9 127.4C844.7 130.0 846.1 133.1 847.0 135.9C848.0 138.8 850.0 142.1 850.6 144.5C851.2 146.8 849.2 149.2 850.6 150.1C852.0 151.1 857.7 155.8 859.1 150.1C860.5 144.5 860.0 121.4 859.1 116.0Z" fill="#000"/>
<path d="M691.2 137.1C692.6 135.3 697.4 138.2 699.7 139.5C701.9 140.7 703.8 142.7 704.7 144.5C705.5 146.2 706.9 149.2 704.7 150.1C702.4 151.1 693.4 152.3 691.2 150.1C688.9 148.0 689.7 138.8 691.2 137.1Z" fill="#fff"/>
</g>
<g clip-path="url(#sin_t1)">
<rect x="849" y="23" width="176.00" height="126.00" fill="#fff"/>
<path d="M878.9 29.2C860.4 30.1 878.6 32.9 879.6 34.8C880.7 36.8 882.7 39.1 885.3 40.8C887.9 42.5 891.7 44.3 895.3 45.1C898.8 45.9 903.3 44.9 906.7 45.8C910.0 46.7 912.5 50.0 915.2 50.5C917.9 51.0 920.4 49.9 923.0 48.8C925.6 47.7 927.7 45.2 930.9 44.1C934.1 43.0 938.5 42.8 942.3 42.0C946.1 41.1 949.8 39.7 953.6 39.1C957.4 38.5 961.5 38.1 965.0 38.4C968.6 38.7 972.1 40.2 975.0 40.8C977.8 41.5 979.9 42.7 982.1 42.2C984.4 41.8 987.0 40.2 988.5 38.0C990.0 35.8 1009.2 30.6 990.9 29.2C972.7 27.7 897.5 28.2 878.9 29.2Z" fill="#000"/>
<path d="M851.2 29.2C852.6 22.7 858.2 27.3 859.7 29.2C861.2 31.1 860.3 37.0 860.4 40.5C860.5 44.1 860.9 47.4 860.4 50.5C859.9 53.6 859.1 56.2 857.6 59.0C856.0 61.9 852.2 72.6 851.2 67.6C850.1 62.6 849.7 35.6 851.2 29.2Z" fill="#000"/>
<path d="M868.2 79.0C868.1 76.6 867.8 72.5 868.9 70.4C870.1 68.4 872.4 67.6 875.4 66.9C878.3 66.2 883.7 66.9 886.7 66.2C889.8 65.5 891.5 63.2 893.9 62.6C896.2 62.0 898.8 61.9 901.0 62.6C903.1 63.3 904.3 65.9 906.7 66.9C909.0 67.8 912.4 67.8 915.2 68.3C918.1 68.8 921.4 68.7 923.8 69.7C926.1 70.8 927.5 73.0 929.4 74.7C931.3 76.4 933.0 78.9 935.1 79.7C937.3 80.5 940.1 80.3 942.3 79.7C944.4 79.1 946.3 77.9 948.0 76.1C949.6 74.3 950.6 70.8 952.2 69.0C953.9 67.2 955.8 65.7 957.9 65.5C960.0 65.2 962.9 66.8 965.0 67.6C967.2 68.4 968.6 70.1 970.7 70.4C972.9 70.8 975.9 70.8 977.8 69.7C979.7 68.7 980.5 65.7 982.1 64.0C983.8 62.4 985.4 60.4 987.8 59.8C990.2 59.2 994.0 59.5 996.3 60.5C998.7 61.4 1000.9 63.3 1002.0 65.5C1003.2 67.6 1003.7 71.0 1003.5 73.3C1003.2 75.5 1002.3 77.6 1000.6 79.0C999.0 80.4 995.9 80.9 993.5 81.8C991.1 82.8 987.8 83.0 986.4 84.7C985.0 86.3 985.9 89.4 985.0 91.8C984.0 94.2 982.6 96.8 980.7 98.9C978.8 101.0 975.9 102.8 973.6 104.6C971.2 106.4 968.6 108.7 966.5 109.6C964.3 110.4 962.7 110.4 960.8 109.6C958.9 108.7 957.0 106.1 955.1 104.6C953.2 103.1 951.7 101.3 949.4 100.3C947.0 99.4 943.4 98.7 940.8 98.9C938.2 99.1 936.1 101.5 933.7 101.8C931.3 102.0 929.0 101.5 926.6 100.3C924.2 99.1 921.6 96.7 919.5 94.6C917.3 92.6 915.9 89.9 913.8 88.2C911.7 86.6 909.3 85.1 906.7 84.7C904.1 84.2 900.7 84.6 898.1 85.4C895.5 86.2 893.6 88.6 891.0 89.7C888.4 90.7 885.1 91.9 882.5 91.8C879.9 91.7 877.5 90.1 875.4 88.9C873.2 87.8 870.8 86.3 869.7 84.7C868.5 83.0 868.4 81.3 868.2 79.0Z" fill="#000"/>
<path d="M881.0 86.1C881.3 88.5 882.7 95.6 882.5 100.3C882.2 105.1 878.9 110.1 879.6 114.6C880.3 119.1 883.9 123.6 886.7 127.4C889.6 131.2 893.6 134.0 896.7 137.3C899.8 140.7 903.8 145.6 905.2 147.3" fill="none" stroke="#000" stroke-width="12.81" stroke-linecap="round" stroke-linejoin="round"/>
<path d="M851.2 115.3C853.1 110.1 858.7 118.7 862.5 118.8C866.3 119.0 870.6 115.3 873.9 116.0C877.3 116.7 882.2 121.0 882.5 123.1C882.7 125.2 877.7 127.6 875.4 128.8C873.0 130.0 870.1 129.0 868.2 130.2C866.3 131.4 864.6 133.3 864.0 135.9C863.4 138.5 866.8 143.5 864.7 145.9C862.5 148.3 853.4 155.3 851.2 150.1C848.9 145.0 849.3 120.5 851.2 115.3Z" fill="#000"/>
<ellipse cx="915.2" cy="116.3" rx="10.2" ry="10.2" fill="#000"/>
<path d="M882.5 123.1C883.7 119.3 884.6 128.1 886.7 130.2C888.9 132.4 892.4 134.4 895.3 135.9C898.1 137.5 901.2 139.2 903.8 139.5C906.4 139.7 909.2 138.6 910.9 137.3C912.7 136.0 914.0 133.5 914.5 131.6C915.0 129.7 913.4 127.4 913.8 126.0C914.1 124.5 914.7 124.1 916.6 123.1C918.5 122.2 923.3 119.1 925.2 120.3C927.1 121.4 925.6 127.5 928.0 129.8C930.4 132.1 936.3 132.8 939.4 134.1C942.5 135.4 943.7 135.5 946.5 137.6C949.4 139.8 954.8 144.3 956.5 146.9C958.2 149.4 969.3 152.0 956.5 153.0C943.7 154.0 892.0 158.0 879.6 153.0C867.3 148.0 881.3 126.9 882.5 123.1Z" fill="#000"/>
<path d="M872.2 139.0C873.3 140.2 876.4 143.4 878.9 145.9C881.4 148.3 886.0 152.4 887.5 153.7" fill="none" stroke="#fff" stroke-width="15.94" stroke-linecap="round" stroke-linejoin="round"/>
<path d="M970.7 124.5C971.3 122.2 972.6 119.5 975.0 117.4C977.4 115.3 981.9 113.5 985.0 111.7C988.0 109.9 990.7 107.2 993.5 106.7C996.3 106.3 999.2 109.2 1002.0 109.2C1004.9 109.1 1007.7 107.2 1010.6 106.3C1013.4 105.4 1017.7 101.1 1019.1 103.9C1020.5 106.7 1020.1 119.7 1019.1 123.1C1018.2 126.5 1015.4 123.5 1013.4 124.2C1011.4 125.0 1008.7 125.9 1007.0 127.7C1005.4 129.4 1004.1 131.0 1003.5 134.8C1002.9 138.5 1007.9 147.6 1003.5 150.1C999.1 152.7 981.9 152.0 977.1 150.1C972.4 148.3 975.9 141.8 975.0 138.8C974.0 135.7 972.1 134.0 971.4 131.6C970.7 129.3 970.1 126.9 970.7 124.5Z" fill="#000"/>
</g>
<g clip-path="url(#sin_t2)">
<path d="M691.2 137.1C692.8 133.8 698.7 138.2 701.1 140.0C703.5 141.7 705.2 145.2 705.4 147.8C705.6 150.4 704.9 153.6 702.5 155.6C700.2 157.6 693.1 163.0 691.2 159.9C689.3 156.8 689.5 140.4 691.2 137.1Z" fill="#fff"/>
<path d="M691.2 186.9C693.1 184.2 699.5 187.9 702.5 187.7C705.6 187.4 708.0 186.8 709.7 185.5C711.3 184.2 712.3 182.0 712.5 179.8C712.7 177.7 711.7 174.8 711.1 172.7C710.5 170.6 708.7 169.0 708.9 167.0C709.2 165.0 710.7 162.3 712.5 160.6C714.3 158.9 717.0 157.8 719.6 157.0C722.2 156.3 725.8 157.0 728.2 156.3C730.5 155.6 732.2 154.2 733.9 152.8C735.5 151.4 736.5 148.9 738.1 147.8C739.8 146.7 741.4 146.1 743.8 146.4C746.2 146.6 750.0 147.8 752.4 149.2C754.7 150.6 756.5 152.9 758.1 154.9C759.6 156.9 760.7 159.1 761.6 161.3C762.6 163.6 762.2 166.1 763.8 168.4C765.3 170.8 768.3 173.5 770.9 175.6C773.5 177.6 777.0 179.6 779.4 180.5C781.8 181.5 783.4 181.8 785.1 181.2C786.8 180.7 788.2 178.6 789.4 177.0C790.6 175.3 791.5 173.4 792.2 171.3C792.9 169.1 792.7 166.1 793.6 164.2C794.6 162.3 796.0 160.6 797.9 159.9C799.8 159.2 802.7 159.3 805.0 159.9C807.4 160.5 810.4 161.8 812.1 163.5C813.9 165.1 815.5 167.6 815.7 169.9C815.9 172.1 814.5 174.8 813.6 177.0C812.6 179.1 810.8 179.9 810.0 182.7C809.3 185.4 809.2 189.8 809.0 193.3C808.9 196.9 828.7 202.2 809.0 204.0C789.4 205.8 710.8 206.9 691.2 204.0C671.5 201.2 689.3 189.7 691.2 186.9Z" fill="#fff"/>
<path d="M732.4 179.8C733.7 177.2 735.8 177.0 738.1 177.0C740.5 177.0 743.9 178.4 746.7 179.8C749.4 181.2 752.6 183.4 754.5 185.5C756.4 187.7 758.1 190.3 758.1 192.6C758.1 195.0 756.4 197.6 754.5 199.8C752.6 201.9 749.4 204.0 746.7 205.4C743.9 206.9 740.5 208.3 738.1 208.3C735.8 208.3 733.7 208.1 732.4 205.4C731.2 202.8 730.7 196.9 730.7 192.6C730.7 188.4 731.2 182.4 732.4 179.8Z" fill="#000"/>
<path d="M755.2 125.7C740.4 126.9 755.2 130.7 755.9 132.8C756.6 135.0 757.7 137.2 759.5 138.5C761.3 139.8 764.2 140.8 766.6 140.7C769.0 140.6 771.3 138.1 773.7 137.8C776.1 137.6 778.7 138.1 780.8 139.3C783.0 140.4 784.4 143.4 786.5 144.9C788.7 146.5 791.0 148.4 793.6 148.5C796.3 148.6 799.6 146.3 802.2 145.7C804.8 145.1 807.2 144.5 809.3 144.9C811.4 145.4 812.9 147.0 815.0 148.5C817.1 150.0 819.5 152.8 822.1 154.2C824.7 155.6 827.6 156.6 830.7 157.0C833.7 157.5 838.0 157.8 840.6 157.0C843.2 156.3 844.9 154.7 846.3 152.8C847.7 150.9 848.9 148.3 849.2 145.7C849.4 143.0 848.4 140.4 847.7 137.1C847.0 133.8 860.3 127.6 844.9 125.7C829.5 123.8 770.0 124.5 755.2 125.7Z" fill="#fff"/>
<path d="M859.1 169.6C856.3 163.8 846.6 168.9 842.0 169.1C837.5 169.4 834.8 170.0 832.1 171.3C829.3 172.6 827.2 174.6 825.7 177.0C824.1 179.3 823.4 182.8 822.8 185.5C822.2 188.2 822.2 190.3 822.1 193.3C822.0 196.4 815.9 202.2 822.1 204.0C828.3 205.8 853.0 209.8 859.1 204.0C865.3 198.3 862.0 175.4 859.1 169.6Z" fill="#fff"/>
</g>
<g clip-path="url(#sin_t3)">
<rect x="849" y="139" width="176.00" height="60.60" fill="#fff"/>
<ellipse cx="866.1" cy="192.6" rx="10.2" ry="10.2" fill="#000"/>
<path d="M851.2 127.2C853.4 119.8 862.3 125.5 864.7 127.2C867.0 128.8 864.9 133.6 865.4 137.1C865.9 140.7 867.4 144.9 867.5 148.5C867.6 152.1 867.2 155.4 866.1 158.5C865.0 161.6 863.6 164.9 861.1 167.0C858.6 169.1 852.8 177.9 851.2 171.3C849.5 164.6 848.9 134.5 851.2 127.2Z" fill="#000"/>
<path d="M879.6 125.7C884.1 123.8 907.1 124.5 915.2 125.7C923.3 126.9 923.5 131.2 928.0 132.8C932.5 134.5 938.8 134.5 942.3 135.7C945.7 136.9 945.8 137.6 948.7 140.0C951.5 142.3 955.8 146.7 959.3 149.9C962.9 153.1 968.0 156.3 970.0 159.2C972.0 162.0 971.7 163.6 971.4 167.0C971.2 170.5 969.4 175.4 968.6 179.8C967.8 184.2 967.0 189.3 966.7 193.3C966.4 197.4 972.7 202.2 966.7 204.0C960.8 205.8 936.8 205.8 930.9 204.0C924.9 202.2 930.7 196.2 930.9 193.3C931.0 190.5 930.9 189.0 931.6 186.9C932.3 184.9 933.6 182.7 935.1 181.2C936.7 179.8 938.7 178.8 940.8 178.4C943.0 178.0 945.7 178.9 948.0 178.7C950.2 178.4 952.7 178.2 954.4 177.0C956.0 175.7 957.7 173.2 957.6 171.3C957.5 169.4 955.3 167.5 953.6 165.6C952.0 163.7 949.8 161.7 948.0 159.9C946.1 158.0 944.6 155.9 942.3 154.5C939.9 153.1 936.4 151.9 933.7 151.6C931.0 151.4 928.0 151.6 925.9 152.8C923.8 153.9 921.9 156.6 920.9 158.5C920.0 160.4 920.0 162.0 920.2 164.2C920.4 166.3 922.2 169.3 922.0 171.3C921.9 173.3 920.9 175.2 919.5 176.3C918.1 177.3 915.7 177.8 913.8 177.7C911.9 177.6 910.0 176.6 908.1 175.6C906.2 174.5 904.5 171.9 902.4 171.3C900.3 170.7 898.1 171.2 895.3 172.0C892.4 172.8 888.2 175.7 885.3 176.3C882.5 176.9 879.9 176.7 878.2 175.6C876.5 174.4 875.5 171.3 875.4 169.1C875.2 167.0 875.8 164.2 877.5 162.7C879.1 161.3 882.1 161.2 885.3 160.6C888.5 160.0 894.1 160.2 896.7 159.2C899.3 158.1 901.0 156.5 901.0 154.2C901.0 151.9 898.8 148.5 896.7 145.7C894.6 142.8 891.0 140.4 888.2 137.1C885.3 133.8 875.1 127.6 879.6 125.7Z" fill="#000"/>
<path d="M970.0 125.7C964.8 127.6 971.8 134.0 972.9 137.1C973.9 140.2 974.9 142.3 976.4 144.2C978.0 146.2 979.7 148.1 982.1 148.8C984.5 149.4 987.8 148.6 990.7 148.1C993.5 147.6 997.1 147.0 999.2 145.9C1001.3 144.9 1002.9 143.6 1003.5 141.7C1004.1 139.7 1002.6 136.9 1002.8 134.3C1002.9 131.6 1009.6 127.2 1004.2 125.7C998.7 124.3 975.2 123.8 970.0 125.7Z" fill="#000"/>
<path d="M982.5 204.0C976.4 202.2 982.5 196.7 982.5 193.3C982.6 190.0 982.5 187.5 982.8 184.1C983.1 180.7 983.7 175.9 984.2 172.7C984.8 169.5 985.1 166.8 986.4 164.9C987.7 163.0 989.7 162.0 992.1 161.3C994.5 160.6 998.4 160.1 1000.6 160.6C1002.9 161.1 1004.5 162.4 1005.6 164.2C1006.7 165.9 1006.2 169.4 1007.0 171.3C1007.9 173.2 1008.6 174.5 1010.6 175.6C1012.6 176.6 1017.7 172.9 1019.1 177.7C1020.5 182.4 1025.2 199.6 1019.1 204.0C1013.0 208.4 988.6 205.8 982.5 204.0Z" fill="#000"/>
</g>
</g>
<g id="sin_full">
<rect x="684.3" y="22.5" width="341.30" height="341.80" fill="#000"/>
<use href="#sin_half"/>
<use href="#sin_half" transform="translate(0 386.80) scale(1 -1)"/>
</g>
</defs>
<g clip-path="url(#sin_ax)"><g filter="url(#sin_f)"><use href="#sin_full"/></g></g>
<circle cx="767.3" cy="91.1" r="2.4" fill="#4a4a4a" filter="url(#b08)"/>
<circle cx="767.3" cy="295.7" r="2.4" fill="#3a3a3a" filter="url(#b08)"/>
<circle cx="955.1" cy="87.9" r="2.4" fill="#8c8c8c" filter="url(#b08)"/>
<circle cx="955.1" cy="298.9" r="2.4" fill="#5a5a5a" filter="url(#b08)"/>
<circle cx="915.5" cy="192.6" r="2.5" fill="#858585" filter="url(#b08)"/>
<circle cx="898.1" cy="34.6" r="2.0" fill="#3a3a3a" filter="url(#b08)"/>
<circle cx="898.1" cy="352.2" r="2.0" fill="#3a3a3a" filter="url(#b08)"/>
<rect x="694.3" y="32.5" width="321.30" height="321.80" fill="none" stroke="#000" stroke-width="1.11"/>
<line x1="694.50" y1="354.30" x2="694.50" y2="359.66" stroke="#000" stroke-width="1"/>
<line x1="688.94" y1="33.50" x2="694.30" y2="33.50" stroke="#000" stroke-width="1"/>
<line x1="755.50" y1="354.30" x2="755.50" y2="359.66" stroke="#000" stroke-width="1"/>
<line x1="688.94" y1="93.50" x2="694.30" y2="93.50" stroke="#000" stroke-width="1"/>
<line x1="815.50" y1="354.30" x2="815.50" y2="359.66" stroke="#000" stroke-width="1"/>
<line x1="688.94" y1="154.50" x2="694.30" y2="154.50" stroke="#000" stroke-width="1"/>
<line x1="876.50" y1="354.30" x2="876.50" y2="359.66" stroke="#000" stroke-width="1"/>
<line x1="688.94" y1="214.50" x2="694.30" y2="214.50" stroke="#000" stroke-width="1"/>
<line x1="936.50" y1="354.30" x2="936.50" y2="359.66" stroke="#000" stroke-width="1"/>
<line x1="688.94" y1="275.50" x2="694.30" y2="275.50" stroke="#000" stroke-width="1"/>
<line x1="996.50" y1="354.30" x2="996.50" y2="359.66" stroke="#000" stroke-width="1"/>
<line x1="688.94" y1="335.50" x2="694.30" y2="335.50" stroke="#000" stroke-width="1"/>
<rect x="75.1" y="415.2" width="322.90" height="322.30" fill="#020206"/>
<g clip-path="url(#ax3clip)">
<g clip-path="url(#dclip)">
<ellipse cx="218" cy="576.0" rx="70" ry="58" fill="url(#haze)" opacity="0.8"/>
<ellipse cx="285" cy="576.0" rx="35" ry="70" fill="#3b0f70" opacity="0.22" filter="url(#b8)"/>
<ellipse cx="180" cy="576.0" rx="20" ry="27" fill="#782281" opacity="0.75" filter="url(#b3)"/>
<ellipse cx="196" cy="576.0" rx="14" ry="30" fill="#b73779" opacity="0.55" filter="url(#b3)"/>
<path d="M210.5 501.9 L210.5 518.9" fill="none" stroke="#782281" stroke-width="4.0" stroke-linecap="round" stroke-linejoin="round" opacity="0.8" filter="url(#sb12)"/>
<path d="M210.5 650.1 L210.5 633.1" fill="none" stroke="#782281" stroke-width="4.0" stroke-linecap="round" stroke-linejoin="round" opacity="0.8" filter="url(#sb12)"/>
<path d="M225.1 492.2 L237.3 506.7" fill="none" stroke="#782281" stroke-width="4.0" stroke-linecap="round" stroke-linejoin="round" opacity="0.7" filter="url(#sb12)"/>
<path d="M225.1 659.8 L237.3 645.3" fill="none" stroke="#782281" stroke-width="4.0" stroke-linecap="round" stroke-linejoin="round" opacity="0.7" filter="url(#sb12)"/>
<path d="M259.1 497.0 L261.6 511.6" fill="none" stroke="#782281" stroke-width="4.0" stroke-linecap="round" stroke-linejoin="round" opacity="0.75" filter="url(#sb12)"/>
<path d="M259.1 655.0 L261.6 640.4" fill="none" stroke="#782281" stroke-width="4.0" stroke-linecap="round" stroke-linejoin="round" opacity="0.75" filter="url(#sb12)"/>
<path d="M271.3 523.8 L276.2 540.8" fill="none" stroke="#782281" stroke-width="4.0" stroke-linecap="round" stroke-linejoin="round" opacity="0.8" filter="url(#sb12)"/>
<path d="M271.3 628.2 L276.2 611.2" fill="none" stroke="#782281" stroke-width="4.0" stroke-linecap="round" stroke-linejoin="round" opacity="0.8" filter="url(#sb12)"/>
<path d="M254.3 528.6 L254.3 543.2" fill="none" stroke="#8c2981" stroke-width="4.0" stroke-linecap="round" stroke-linejoin="round" opacity="0.9" filter="url(#sb12)"/>
<path d="M254.3 623.4 L254.3 608.8" fill="none" stroke="#8c2981" stroke-width="4.0" stroke-linecap="round" stroke-linejoin="round" opacity="0.9" filter="url(#sb12)"/>
<path d="M225.1 527.4 L227.5 535.9" fill="none" stroke="#782281" stroke-width="4.0" stroke-linecap="round" stroke-linejoin="round" opacity="0.8" filter="url(#sb12)"/>
<path d="M225.1 624.6 L227.5 616.1" fill="none" stroke="#782281" stroke-width="4.0" stroke-linecap="round" stroke-linejoin="round" opacity="0.8" filter="url(#sb12)"/>
<path d="M288.3 499.5 L298.0 506.7 L295.6 518.9 L285.9 528.6" fill="none" stroke="#782281" stroke-width="3.5" stroke-linecap="round" stroke-linejoin="round" opacity="0.7" filter="url(#sb12)"/>
<path d="M288.3 652.5 L298.0 645.3 L295.6 633.1 L285.9 623.4" fill="none" stroke="#782281" stroke-width="3.5" stroke-linecap="round" stroke-linejoin="round" opacity="0.7" filter="url(#sb12)"/>
<path d="M195.9 523.8 L197.1 535.9" fill="none" stroke="#782281" stroke-width="4.0" stroke-linecap="round" stroke-linejoin="round" opacity="0.7" filter="url(#sb12)"/>
<path d="M195.9 628.2 L197.1 616.1" fill="none" stroke="#782281" stroke-width="4.0" stroke-linecap="round" stroke-linejoin="round" opacity="0.7" filter="url(#sb12)"/>
<path d="M293.2 538.4 L310.2 560.2" fill="none" stroke="#782281" stroke-width="3.5" stroke-linecap="round" stroke-linejoin="round" opacity="0.6" filter="url(#sb12)"/>
<path d="M293.2 613.6 L310.2 591.8" fill="none" stroke="#782281" stroke-width="3.5" stroke-linecap="round" stroke-linejoin="round" opacity="0.6" filter="url(#sb12)"/>
<path d="M172.0 538.0 L182.0 548.0" fill="none" stroke="#641a80" stroke-width="9" stroke-linecap="round" stroke-linejoin="round" opacity="0.6" filter="url(#sb2)"/>
<path d="M172.0 614.0 L182.0 604.0" fill="none" stroke="#641a80" stroke-width="9" stroke-linecap="round" stroke-linejoin="round" opacity="0.6" filter="url(#sb2)"/>
<path d="M240.0 515.0 L243.0 524.0" fill="none" stroke="#782281" stroke-width="4.0" stroke-linecap="round" stroke-linejoin="round" opacity="0.6" filter="url(#sb12)"/>
<path d="M240.0 637.0 L243.0 628.0" fill="none" stroke="#782281" stroke-width="4.0" stroke-linecap="round" stroke-linejoin="round" opacity="0.6" filter="url(#sb12)"/>
<path d="M305.0 520.0 L312.0 530.0" fill="none" stroke="#782281" stroke-width="3" stroke-linecap="round" stroke-linejoin="round" opacity="0.5" filter="url(#sb12)"/>
<path d="M305.0 632.0 L312.0 622.0" fill="none" stroke="#782281" stroke-width="3" stroke-linecap="round" stroke-linejoin="round" opacity="0.5" filter="url(#sb12)"/>
<path d="M189.0 543.1 A38.0 38.0 0 0 1 189.0 608.9" fill="none" stroke="#03020c" stroke-width="6" stroke-linecap="round" opacity="0.75" filter="url(#b12)"/>
<path d="M213.5 532.5 A61.5 61.5 0 0 1 213.5 619.5" fill="none" stroke="#03020c" stroke-width="4.5" stroke-linecap="round" opacity="0.6" filter="url(#b12)"/>
<path d="M225.9 529.1 A73.0 73.0 0 0 1 225.9 622.9" fill="none" stroke="#03020c" stroke-width="4.5" stroke-linecap="round" opacity="0.7" filter="url(#b12)"/>
<path d="M239.2 527.5 A84.5 84.5 0 0 1 239.2 624.5" fill="none" stroke="#03020c" stroke-width="4.5" stroke-linecap="round" opacity="0.75" filter="url(#b12)"/>
<path d="M253.1 528.0 A96.0 96.0 0 0 1 253.1 624.0" fill="none" stroke="#03020c" stroke-width="5" stroke-linecap="round" opacity="0.7" filter="url(#b12)"/>
<path d="M267.9 530.4 A108.0 108.0 0 0 1 267.9 621.6" fill="none" stroke="#03020c" stroke-width="6" stroke-linecap="round" opacity="0.7" filter="url(#b12)"/>
<path d="M287.9 537.7 A124.0 124.0 0 0 1 287.9 614.3" fill="none" stroke="#03020c" stroke-width="8" stroke-linecap="round" opacity="0.6" filter="url(#b12)"/>
<path d="M186.9 551.8 A29.5 29.5 0 0 1 186.9 600.2" fill="none" stroke="#b73779" stroke-width="9" stroke-linecap="round" opacity="0.9" filter="url(#b12)"/>
<path d="M199.6 540.8 A46.0 46.0 0 0 1 199.6 611.2" fill="none" stroke="#b73779" stroke-width="8" stroke-linecap="round" opacity="0.9" filter="url(#b12)"/>
<path d="M211.2 538.9 A55.5 55.5 0 0 1 211.2 613.1" fill="none" stroke="#8c2981" stroke-width="6" stroke-linecap="round" opacity="0.9" filter="url(#b12)"/>
<path d="M222.8 534.8 A67.0 67.0 0 0 1 222.8 617.2" fill="none" stroke="#8c2981" stroke-width="6" stroke-linecap="round" opacity="0.85" filter="url(#b12)"/>
<path d="M236.3 533.0 A79.0 79.0 0 0 1 236.3 619.0" fill="none" stroke="#782281" stroke-width="5.5" stroke-linecap="round" opacity="0.85" filter="url(#b12)"/>
<path d="M249.9 533.5 A90.5 90.5 0 0 1 249.9 618.5" fill="none" stroke="#782281" stroke-width="5.5" stroke-linecap="round" opacity="0.8" filter="url(#b12)"/>
<path d="M263.2 534.5 A102.0 102.0 0 0 1 263.2 617.5" fill="none" stroke="#641a80" stroke-width="5" stroke-linecap="round" opacity="0.8" filter="url(#b12)"/>
<path d="M278.1 536.7 A115.0 115.0 0 0 1 278.1 615.3" fill="none" stroke="#51127c" stroke-width="4.5" stroke-linecap="round" opacity="0.75" filter="url(#b12)"/>
<path d="M300.1 548.3 A133.0 133.0 0 0 1 300.1 603.7" fill="none" stroke="#51127c" stroke-width="4" stroke-linecap="round" opacity="0.6" filter="url(#b12)"/>
<path d="M189.0 553.4 A29.5 29.5 0 0 1 189.0 598.6" fill="none" stroke="#f7705c" stroke-width="6" stroke-linecap="round" opacity="1.0" filter="url(#b08)"/>
<path d="M191.2 555.5 A29.5 29.5 0 0 1 191.2 596.5" fill="none" stroke="#fcfdbf" stroke-width="4.4" stroke-linecap="round" opacity="1.0" filter="url(#b05)"/>
<path d="M205.2 546.4 A46.0 46.0 0 0 1 215.0 566.4" fill="none" stroke="#f7705c" stroke-width="5" stroke-linecap="round" opacity="1.0" filter="url(#b08)"/>
<path d="M215.0 585.6 A46.0 46.0 0 0 1 205.2 605.6" fill="none" stroke="#f7705c" stroke-width="5" stroke-linecap="round" opacity="1.0" filter="url(#b08)"/>
<path d="M215.3 568.0 A46.0 46.0 0 0 1 215.3 584.0" fill="none" stroke="#de4968" stroke-width="4.5" stroke-linecap="round" opacity="1.0" filter="url(#b08)"/>
<path d="M199.1 551.6 A38.0 38.0 0 0 1 204.4 559.9" fill="none" stroke="#fc8961" stroke-width="4" stroke-linecap="round" opacity="1.0" filter="url(#b08)"/>
<path d="M204.4 592.1 A38.0 38.0 0 0 1 199.1 600.4" fill="none" stroke="#fc8961" stroke-width="4" stroke-linecap="round" opacity="1.0" filter="url(#b08)"/>
<ellipse cx="192.4" cy="559.0" rx="3.1" ry="7.2" fill="#fcfdbf" opacity="1.0" filter="url(#b05)"/>
<ellipse cx="192.4" cy="593.0" rx="3.1" ry="7.2" fill="#fcfdbf" opacity="1.0" filter="url(#b05)"/>
<ellipse cx="212.6" cy="553.0" rx="3.4" ry="9.5" fill="#f7705c" opacity="1.0" filter="url(#b08)"/>
<ellipse cx="212.6" cy="599.0" rx="3.4" ry="9.5" fill="#f7705c" opacity="1.0" filter="url(#b08)"/>
<ellipse cx="212.6" cy="553.0" rx="2.0" ry="7.0" fill="#fecf92" opacity="1.0" filter="url(#b05)"/>
<ellipse cx="212.6" cy="599.0" rx="2.0" ry="7.0" fill="#fecf92" opacity="1.0" filter="url(#b05)"/>
<ellipse cx="224.8" cy="548.0" rx="3.0" ry="5.0" fill="#f7705c" opacity="1.0" filter="url(#b08)"/>
<ellipse cx="224.8" cy="604.0" rx="3.0" ry="5.0" fill="#f7705c" opacity="1.0" filter="url(#b08)"/>
<ellipse cx="224.8" cy="548.0" rx="1.8" ry="3.0" fill="#fecf92" opacity="1.0" filter="url(#b05)"/>
<ellipse cx="224.8" cy="604.0" rx="1.8" ry="3.0" fill="#fecf92" opacity="1.0" filter="url(#b05)"/>
<ellipse cx="235.4" cy="551.0" rx="3.6" ry="11" fill="#de4968" opacity="1.0" filter="url(#b08)"/>
<ellipse cx="235.4" cy="601.0" rx="3.6" ry="11" fill="#de4968" opacity="1.0" filter="url(#b08)"/>
<ellipse cx="235.4" cy="551.0" rx="2.1" ry="8.5" fill="#fde7a9" opacity="1.0" filter="url(#b05)"/>
<ellipse cx="235.4" cy="601.0" rx="2.1" ry="8.5" fill="#fde7a9" opacity="1.0" filter="url(#b05)"/>
<ellipse cx="248.6" cy="556.0" rx="3.4" ry="9.5" fill="#b73779" opacity="1.0" filter="url(#b08)"/>
<ellipse cx="248.6" cy="596.0" rx="3.4" ry="9.5" fill="#b73779" opacity="1.0" filter="url(#b08)"/>
<ellipse cx="248.6" cy="556.0" rx="2.2" ry="7.5" fill="#f7705c" opacity="1.0" filter="url(#b05)"/>
<ellipse cx="248.6" cy="596.0" rx="2.2" ry="7.5" fill="#f7705c" opacity="1.0" filter="url(#b05)"/>
<ellipse cx="260.3" cy="559.0" rx="3.4" ry="10.5" fill="#de4968" opacity="1.0" filter="url(#b08)"/>
<ellipse cx="260.3" cy="593.0" rx="3.4" ry="10.5" fill="#de4968" opacity="1.0" filter="url(#b08)"/>
<ellipse cx="260.3" cy="559.0" rx="2.0" ry="8.0" fill="#fde7a9" opacity="1.0" filter="url(#b05)"/>
<ellipse cx="260.3" cy="593.0" rx="2.0" ry="8.0" fill="#fde7a9" opacity="1.0" filter="url(#b05)"/>
<ellipse cx="274.7" cy="561.0" rx="4.5" ry="7.5" fill="#782281" opacity="0.9" filter="url(#b12)"/>
<ellipse cx="274.7" cy="591.0" rx="4.5" ry="7.5" fill="#782281" opacity="0.9" filter="url(#b12)"/>
<ellipse cx="226.4" cy="576.0" rx="4.5" ry="8" fill="#b73779" opacity="1.0" filter="url(#b12)"/>
<ellipse cx="241.0" cy="576.0" rx="3.2" ry="9" fill="#a1307e" opacity="0.9" filter="url(#b12)"/>
<ellipse cx="280.6" cy="576.0" rx="3.0" ry="6.5" fill="#b73779" opacity="1.0" filter="url(#b08)"/>
<ellipse cx="288.8" cy="576.0" rx="2.0" ry="3.0" fill="#b73779" opacity="1.0" filter="url(#b08)"/>
<ellipse cx="269.0" cy="576.0" rx="5" ry="5" fill="#020206" opacity="0.8" filter="url(#b12)"/>
<ellipse cx="182.6" cy="560.7" rx="2.6" ry="2.6" fill="#fcfdbf" opacity="1.0" filter="url(#b05)"/>
<ellipse cx="182.6" cy="591.3" rx="2.6" ry="2.6" fill="#fcfdbf" opacity="1.0" filter="url(#b05)"/>
<ellipse cx="204.5" cy="559.7" rx="3.0" ry="2.4" fill="#fcfdbf" opacity="1.0" filter="url(#b05)"/>
<ellipse cx="204.5" cy="592.3" rx="3.0" ry="2.4" fill="#fcfdbf" opacity="1.0" filter="url(#b05)"/>
<ellipse cx="187.6" cy="576.0" rx="4.0" ry="4.0" fill="#fcfdbf" opacity="1.0" filter="url(#b05)"/>
<ellipse cx="202.5" cy="553.0" rx="3" ry="3" fill="#f7705c" opacity="1.0" filter="url(#b08)"/>
<ellipse cx="202.5" cy="599.0" rx="3" ry="3" fill="#f7705c" opacity="1.0" filter="url(#b08)"/>
</g>
<rect x="87.4" y="561.60" width="91.2" height="28.80" rx="2.5" fill="url(#beamxy)"/>
<ellipse cx="178.6" cy="576.0" rx="3.5" ry="9.0" fill="#fcfdbf" filter="url(#b05)"/>
<rect x="75.1" y="565.1" width="75.60" height="21.8" fill="#fff" opacity="0.2"/>
<g clip-path="url(#dclip)" opacity="0.225"><g transform="translate(110.433 472.749) scale(0.53333 0.53387)"><g filter="url(#si_finv)"><use href="#si_full"/></g></g></g>
</g>
<line x1="150.50" y1="737.50" x2="150.50" y2="742.36" stroke="#000" stroke-width="1"/>
<line x1="236.50" y1="737.50" x2="236.50" y2="742.36" stroke="#000" stroke-width="1"/>
<line x1="321.50" y1="737.50" x2="321.50" y2="742.36" stroke="#000" stroke-width="1"/>
<line x1="70.24" y1="447.50" x2="75.10" y2="447.50" stroke="#000" stroke-width="1"/>
<line x1="70.24" y1="490.50" x2="75.10" y2="490.50" stroke="#000" stroke-width="1"/>
<line x1="70.24" y1="533.50" x2="75.10" y2="533.50" stroke="#000" stroke-width="1"/>
<line x1="70.24" y1="576.50" x2="75.10" y2="576.50" stroke="#000" stroke-width="1"/>
<line x1="70.24" y1="619.50" x2="75.10" y2="619.50" stroke="#000" stroke-width="1"/>
<line x1="70.24" y1="662.50" x2="75.10" y2="662.50" stroke="#000" stroke-width="1"/>
<line x1="70.24" y1="705.50" x2="75.10" y2="705.50" stroke="#000" stroke-width="1"/>
<rect x="633.1" y="415.2" width="383.50" height="322.20" fill="#020206"/>
<g clip-path="url(#ax4clip)">
<rect x="633.1" y="686.0" width="383.50" height="51.40" fill="#333136"/>
<rect x="745.0" y="505.0" width="177.0" height="6.0" fill="#1d1147" opacity="0.5" filter="url(#b3)"/>
<rect x="750.0" y="522.0" width="168.0" height="12.0" fill="#1d1147" opacity="0.55" filter="url(#b3)"/>
<rect x="786.0" y="600.0" width="116.0" height="11.0" fill="#1d1147" opacity="0.4" filter="url(#b3)"/>
<rect x="814.0" y="624.0" width="84.0" height="11.0" fill="#1d1147" opacity="0.4" filter="url(#b3)"/>
<rect x="772.0" y="647.0" width="126.0" height="11.0" fill="#1d1147" opacity="0.3" filter="url(#b3)"/>
<rect x="792.0" y="671.0" width="106.0" height="10.0" fill="#1d1147" opacity="0.25" filter="url(#b3)"/>
<rect x="746" y="537.4" width="180" height="30.3" fill="#121116"/>
<rect x="763" y="537.4" width="5" height="30.3" fill="#050409"/>
<rect x="795" y="537.4" width="5" height="30.3" fill="#050409"/>
<rect x="821" y="537.4" width="8" height="30.3" fill="#050409"/>
<rect x="864" y="537.4" width="8" height="30.3" fill="#050409"/>
<rect x="898" y="537.4" width="8" height="30.3" fill="#050409"/>
<rect x="633.1" y="573.0" width="89.4" height="10.9" fill="#333136"/>
<rect x="722.5" y="573.0" width="203.3" height="10.9" fill="#454449"/>
<rect x="784" y="573.0" width="8.0" height="7.6" fill="#06050c"/>
<rect x="834.8" y="573.0" width="9.3" height="7.6" fill="#06050c"/>
<rect x="861" y="573.0" width="10.7" height="7.6" fill="#06050c"/>
<rect x="882.8" y="573.0" width="5.7" height="7.6" fill="#06050c"/>
<rect x="894.2" y="573.0" width="9.2" height="7.6" fill="#06050c"/>
<rect x="912" y="573.0" width="7.8" height="7.6" fill="#06050c"/>
<ellipse cx="767" cy="581" rx="9.0" ry="10.0" fill="#641a80" opacity="0.95" filter="url(#b2)"/>
<ellipse cx="759.5" cy="583" rx="5" ry="4.5" fill="#8c2981" opacity="0.9" filter="url(#b12)"/>
<ellipse cx="752.5" cy="579.6" rx="7.5" ry="7.2" fill="#8c2981" opacity="0.95" filter="url(#b12)"/>
<ellipse cx="752.5" cy="579.8" rx="6.2" ry="6.0" fill="#f7705c" opacity="1.0" filter="url(#b08)"/>
<rect x="647.2" y="568.50" width="104.8" height="21.50" rx="5" fill="url(#beamxz)"/>
<ellipse cx="752" cy="580.0" rx="4.8" ry="4.9" fill="#fcfdbf" opacity="1.0" filter="url(#b05)"/>
<ellipse cx="749.3" cy="574.3" rx="2.8" ry="2.0" fill="#f7705c" opacity="1.0" filter="url(#b05)"/>
<ellipse cx="759.5" cy="583.2" rx="3.2" ry="2.2" fill="#fc8961" opacity="1.0" filter="url(#b08)"/>
<ellipse cx="767" cy="581" rx="6.4" ry="7.2" fill="#f7705c" opacity="1.0" filter="url(#b08)"/>
<ellipse cx="767" cy="581" rx="5.0" ry="6.0" fill="#fcfdbf" opacity="1.0" filter="url(#b05)"/>
<ellipse cx="780.5" cy="577.2" rx="5.5" ry="6.5" fill="#782281" opacity="0.9" filter="url(#b12)"/>
<ellipse cx="780.5" cy="577.2" rx="2.2" ry="3.6" fill="#fde7a9" opacity="1.0" filter="url(#b05)"/>
<ellipse cx="797.5" cy="580.8" rx="5.5" ry="6" fill="#641a80" opacity="0.9" filter="url(#b12)"/>
<ellipse cx="797.5" cy="581.2" rx="2.6" ry="2.8" fill="#fc8961" opacity="1.0" filter="url(#b05)"/>
<ellipse cx="813.5" cy="582.5" rx="5" ry="5.5" fill="#641a80" opacity="0.9" filter="url(#b12)"/>
<ellipse cx="813.5" cy="583" rx="2.4" ry="2.4" fill="#ed5a5f" opacity="1.0" filter="url(#b05)"/>
<ellipse cx="827.8" cy="580.8" rx="5" ry="5.5" fill="#641a80" opacity="0.9" filter="url(#b12)"/>
<ellipse cx="827.8" cy="581.2" rx="2.6" ry="2.8" fill="#fc8961" opacity="1.0" filter="url(#b05)"/>
<ellipse cx="847" cy="581" rx="5" ry="4" fill="#51127c" opacity="0.7" filter="url(#b12)"/>
<ellipse cx="864" cy="572" rx="5" ry="4" fill="#51127c" opacity="0.7" filter="url(#b12)"/>
<ellipse cx="877.5" cy="579.8" rx="4.5" ry="5" fill="#782281" opacity="0.9" filter="url(#b12)"/>
<ellipse cx="877.5" cy="580" rx="2.0" ry="2.4" fill="#de4968" opacity="1.0" filter="url(#b05)"/>
<ellipse cx="895" cy="583" rx="4" ry="4" fill="#51127c" opacity="0.7" filter="url(#b12)"/>
<ellipse cx="912" cy="583" rx="4" ry="4" fill="#3b0f70" opacity="0.7" filter="url(#b12)"/>
<ellipse cx="781" cy="569" rx="6" ry="3.5" fill="#51127c" opacity="0.8" filter="url(#b12)"/>
<ellipse cx="745" cy="568" rx="10" ry="3" fill="#3b0f70" opacity="0.8" filter="url(#b12)"/>
<ellipse cx="812" cy="570" rx="8" ry="3" fill="#3b0f70" opacity="0.7" filter="url(#b12)"/>
</g>
<rect x="633.1" y="415.2" width="383.50" height="322.20" fill="none" stroke="#000" stroke-width="1.11"/>
<line x1="671.50" y1="737.40" x2="671.50" y2="742.26" stroke="#000" stroke-width="1"/>
<line x1="722.50" y1="737.40" x2="722.50" y2="742.26" stroke="#000" stroke-width="1"/>
<line x1="773.50" y1="737.40" x2="773.50" y2="742.26" stroke="#000" stroke-width="1"/>
<line x1="824.50" y1="737.40" x2="824.50" y2="742.26" stroke="#000" stroke-width="1"/>
<line x1="875.50" y1="737.40" x2="875.50" y2="742.26" stroke="#000" stroke-width="1"/>
<line x1="926.50" y1="737.40" x2="926.50" y2="742.26" stroke="#000" stroke-width="1"/>
<line x1="977.50" y1="737.40" x2="977.50" y2="742.26" stroke="#000" stroke-width="1"/>
<line x1="628.24" y1="440.50" x2="633.10" y2="440.50" stroke="#000" stroke-width="1"/>
<line x1="628.24" y1="491.50" x2="633.10" y2="491.50" stroke="#000" stroke-width="1"/>
<line x1="628.24" y1="541.50" x2="633.10" y2="541.50" stroke="#000" stroke-width="1"/>
<line x1="628.24" y1="592.50" x2="633.10" y2="592.50" stroke="#000" stroke-width="1"/>
<line x1="628.24" y1="643.50" x2="633.10" y2="643.50" stroke="#000" stroke-width="1"/>
<line x1="628.24" y1="694.50" x2="633.10" y2="694.50" stroke="#000" stroke-width="1"/>
<rect x="423.40" y="429.50" width="16.20" height="293.10" fill="url(#magma)"/>
<path d="M423.40 430.50 L423.40 429.50 L431.50 414.90 L439.60 429.50 L439.60 430.50 Z" fill="#fcfdbf"/>
<path d="M423.40 721.60 L423.40 722.60 L431.50 737.20 L439.60 722.60 L439.60 721.60 Z" fill="#000004"/>
<path d="M423.40 429.50 L431.50 414.90 L439.60 429.50 L439.60 722.60 L431.50 737.20 L423.40 722.60 Z" fill="none" stroke="#000" stroke-width="1.11" stroke-linejoin="miter"/>
<line x1="439.60" y1="722.50" x2="444.86" y2="722.50" stroke="#000" stroke-width="1"/>
<line x1="439.60" y1="688.50" x2="444.86" y2="688.50" stroke="#000" stroke-width="1"/>
<line x1="439.60" y1="653.50" x2="444.86" y2="653.50" stroke="#000" stroke-width="1"/>
<line x1="439.60" y1="619.50" x2="444.86" y2="619.50" stroke="#000" stroke-width="1"/>
<line x1="439.60" y1="584.50" x2="444.86" y2="584.50" stroke="#000" stroke-width="1"/>
<line x1="439.60" y1="550.50" x2="444.86" y2="550.50" stroke="#000" stroke-width="1"/>
<line x1="439.60" y1="515.50" x2="444.86" y2="515.50" stroke="#000" stroke-width="1"/>
<line x1="439.60" y1="481.50" x2="444.86" y2="481.50" stroke="#000" stroke-width="1"/>
<line x1="439.60" y1="446.50" x2="444.86" y2="446.50" stroke="#000" stroke-width="1"/>
<rect x="1042.30" y="429.50" width="16.40" height="293.10" fill="url(#magma)"/>
<path d="M1042.30 430.50 L1042.30 429.50 L1050.50 414.90 L1058.70 429.50 L1058.70 430.50 Z" fill="#fcfdbf"/>
<path d="M1042.30 721.60 L1042.30 722.60 L1050.50 737.20 L1058.70 722.60 L1058.70 721.60 Z" fill="#000004"/>
<path d="M1042.30 429.50 L1050.50 414.90 L1058.70 429.50 L1058.70 722.60 L1050.50 737.20 L1042.30 722.60 Z" fill="none" stroke="#000" stroke-width="1.11" stroke-linejoin="miter"/>
<line x1="1058.70" y1="722.50" x2="1063.96" y2="722.50" stroke="#000" stroke-width="1"/>
<line x1="1058.70" y1="662.50" x2="1063.96" y2="662.50" stroke="#000" stroke-width="1"/>
<line x1="1058.70" y1="601.50" x2="1063.96" y2="601.50" stroke="#000" stroke-width="1"/>
<line x1="1058.70" y1="541.50" x2="1063.96" y2="541.50" stroke="#000" stroke-width="1"/>
<line x1="1058.70" y1="480.50" x2="1063.96" y2="480.50" stroke="#000" stroke-width="1"/>
<g opacity="0.999">
<text x="76.10" y="375.05" font-size="14.17" text-anchor="middle" textLength="8.44" lengthAdjust="spacingAndGlyphs">0</text>
<text x="65.90" y="38.15" font-size="14.17" text-anchor="end" textLength="8.44" lengthAdjust="spacingAndGlyphs">0</text>
<text x="136.44" y="375.05" font-size="14.17" text-anchor="middle" textLength="16.88" lengthAdjust="spacingAndGlyphs">50</text>
<text x="64.30" y="98.64" font-size="14.17" text-anchor="end" textLength="16.88" lengthAdjust="spacingAndGlyphs">50</text>
<text x="196.78" y="375.05" font-size="14.17" text-anchor="middle" textLength="25.32" lengthAdjust="spacingAndGlyphs">100</text>
<text x="64.30" y="159.13" font-size="14.17" text-anchor="end" textLength="25.32" lengthAdjust="spacingAndGlyphs">100</text>
<text x="257.12" y="375.05" font-size="14.17" text-anchor="middle" textLength="25.32" lengthAdjust="spacingAndGlyphs">150</text>
<text x="64.30" y="219.62" font-size="14.17" text-anchor="end" textLength="25.32" lengthAdjust="spacingAndGlyphs">150</text>
<text x="317.46" y="375.05" font-size="14.17" text-anchor="middle" textLength="25.32" lengthAdjust="spacingAndGlyphs">200</text>
<text x="64.30" y="280.11" font-size="14.17" text-anchor="end" textLength="25.32" lengthAdjust="spacingAndGlyphs">200</text>
<text x="377.80" y="375.05" font-size="14.17" text-anchor="middle" textLength="25.32" lengthAdjust="spacingAndGlyphs">250</text>
<text x="64.30" y="340.60" font-size="14.17" text-anchor="end" textLength="25.32" lengthAdjust="spacingAndGlyphs">250</text>
<text x="236.00" y="23.60" font-size="17.00" text-anchor="middle" textLength="121.73" lengthAdjust="spacingAndGlyphs">Si etch pattern</text>
<text x="694.90" y="375.05" font-size="14.17" text-anchor="middle" textLength="8.44" lengthAdjust="spacingAndGlyphs">0</text>
<text x="684.70" y="38.15" font-size="14.17" text-anchor="end" textLength="8.44" lengthAdjust="spacingAndGlyphs">0</text>
<text x="755.30" y="375.05" font-size="14.17" text-anchor="middle" textLength="16.88" lengthAdjust="spacingAndGlyphs">50</text>
<text x="683.10" y="98.64" font-size="14.17" text-anchor="end" textLength="16.88" lengthAdjust="spacingAndGlyphs">50</text>
<text x="815.69" y="375.05" font-size="14.17" text-anchor="middle" textLength="25.32" lengthAdjust="spacingAndGlyphs">100</text>
<text x="683.10" y="159.13" font-size="14.17" text-anchor="end" textLength="25.32" lengthAdjust="spacingAndGlyphs">100</text>
<text x="876.09" y="375.05" font-size="14.17" text-anchor="middle" textLength="25.32" lengthAdjust="spacingAndGlyphs">150</text>
<text x="683.10" y="219.62" font-size="14.17" text-anchor="end" textLength="25.32" lengthAdjust="spacingAndGlyphs">150</text>
<text x="936.48" y="375.05" font-size="14.17" text-anchor="middle" textLength="25.32" lengthAdjust="spacingAndGlyphs">200</text>
<text x="683.10" y="280.11" font-size="14.17" text-anchor="end" textLength="25.32" lengthAdjust="spacingAndGlyphs">200</text>
<text x="996.88" y="375.05" font-size="14.17" text-anchor="middle" textLength="25.32" lengthAdjust="spacingAndGlyphs">250</text>
<text x="683.10" y="340.60" font-size="14.17" text-anchor="end" textLength="25.32" lengthAdjust="spacingAndGlyphs">250</text>
<text x="854.95" y="23.60" font-size="17.00" text-anchor="middle" textLength="134.02" lengthAdjust="spacingAndGlyphs">SiN etch pattern</text>
<text x="150.70" y="756.80" font-size="14.17" text-anchor="middle" textLength="34.32" lengthAdjust="spacingAndGlyphs">-2.00</text>
<text x="236.30" y="756.80" font-size="14.17" text-anchor="middle" textLength="29.54" lengthAdjust="spacingAndGlyphs">0.00</text>
<text x="321.90" y="756.80" font-size="14.17" text-anchor="middle" textLength="29.54" lengthAdjust="spacingAndGlyphs">2.00</text>
<text x="64.30" y="452.50" font-size="14.17" text-anchor="end" textLength="29.54" lengthAdjust="spacingAndGlyphs">3.00</text>
<text x="64.30" y="495.40" font-size="14.17" text-anchor="end" textLength="29.54" lengthAdjust="spacingAndGlyphs">2.00</text>
<text x="64.30" y="538.30" font-size="14.17" text-anchor="end" textLength="29.54" lengthAdjust="spacingAndGlyphs">1.00</text>
<text x="64.30" y="581.20" font-size="14.17" text-anchor="end" textLength="29.54" lengthAdjust="spacingAndGlyphs">0.00</text>
<text x="64.30" y="624.10" font-size="14.17" text-anchor="end" textLength="34.32" lengthAdjust="spacingAndGlyphs">-1.00</text>
<text x="64.30" y="667.00" font-size="14.17" text-anchor="end" textLength="34.32" lengthAdjust="spacingAndGlyphs">-2.00</text>
<text x="64.30" y="709.90" font-size="14.17" text-anchor="end" textLength="34.32" lengthAdjust="spacingAndGlyphs">-3.00</text>
<text x="236.55" y="406.60" font-size="17.00" text-anchor="middle" textLength="225.97" lengthAdjust="spacingAndGlyphs">intensity coupler (xy) plane</text>
<text x="235.90" y="777.00" font-size="14.17" text-anchor="middle" textLength="43.78" lengthAdjust="spacingAndGlyphs">x (µm)</text>
<text x="20.10" y="577.00" font-size="14.17" text-anchor="middle" textLength="43.78" lengthAdjust="spacingAndGlyphs" transform="rotate(-90 20.10 577.00)">y (µm)</text>
<text x="671.50" y="756.50" font-size="14.17" text-anchor="middle" textLength="34.32" lengthAdjust="spacingAndGlyphs">-3.00</text>
<text x="722.50" y="756.50" font-size="14.17" text-anchor="middle" textLength="34.32" lengthAdjust="spacingAndGlyphs">-2.00</text>
<text x="773.50" y="756.50" font-size="14.17" text-anchor="middle" textLength="34.32" lengthAdjust="spacingAndGlyphs">-1.00</text>
<text x="824.50" y="756.50" font-size="14.17" text-anchor="middle" textLength="29.54" lengthAdjust="spacingAndGlyphs">0.00</text>
<text x="875.50" y="756.50" font-size="14.17" text-anchor="middle" textLength="29.54" lengthAdjust="spacingAndGlyphs">1.00</text>
<text x="926.50" y="756.50" font-size="14.17" text-anchor="middle" textLength="29.54" lengthAdjust="spacingAndGlyphs">2.00</text>
<text x="977.50" y="756.50" font-size="14.17" text-anchor="middle" textLength="29.54" lengthAdjust="spacingAndGlyphs">3.00</text>
<text x="622.10" y="445.44" font-size="14.17" text-anchor="end" textLength="29.54" lengthAdjust="spacingAndGlyphs">3.00</text>
<text x="622.10" y="496.16" font-size="14.17" text-anchor="end" textLength="29.54" lengthAdjust="spacingAndGlyphs">2.00</text>
<text x="622.10" y="546.88" font-size="14.17" text-anchor="end" textLength="29.54" lengthAdjust="spacingAndGlyphs">1.00</text>
<text x="622.10" y="597.60" font-size="14.17" text-anchor="end" textLength="29.54" lengthAdjust="spacingAndGlyphs">0.00</text>
<text x="622.10" y="648.32" font-size="14.17" text-anchor="end" textLength="34.32" lengthAdjust="spacingAndGlyphs">-1.00</text>
<text x="622.10" y="699.04" font-size="14.17" text-anchor="end" textLength="34.32" lengthAdjust="spacingAndGlyphs">-2.00</text>
<text x="824.85" y="406.60" font-size="17.00" text-anchor="middle" textLength="197.19" lengthAdjust="spacingAndGlyphs">intensity side (xz) plane</text>
<text x="824.00" y="776.60" font-size="14.17" text-anchor="middle" textLength="43.78" lengthAdjust="spacingAndGlyphs">x (µm)</text>
<text x="578.10" y="577.00" font-size="14.17" text-anchor="middle" textLength="42.89" lengthAdjust="spacingAndGlyphs" transform="rotate(-90 578.10 577.00)">z (µm)</text>
<text x="449.50" y="728.00" font-size="14.17" text-anchor="start" textLength="8.44" lengthAdjust="spacingAndGlyphs">0</text>
<text x="449.50" y="693.47" font-size="14.17" text-anchor="start" textLength="25.32" lengthAdjust="spacingAndGlyphs">100</text>
<text x="449.50" y="658.94" font-size="14.17" text-anchor="start" textLength="25.32" lengthAdjust="spacingAndGlyphs">200</text>
<text x="449.50" y="624.41" font-size="14.17" text-anchor="start" textLength="25.32" lengthAdjust="spacingAndGlyphs">300</text>
<text x="449.50" y="589.88" font-size="14.17" text-anchor="start" textLength="25.32" lengthAdjust="spacingAndGlyphs">400</text>
<text x="449.50" y="555.35" font-size="14.17" text-anchor="start" textLength="25.32" lengthAdjust="spacingAndGlyphs">500</text>
<text x="449.50" y="520.82" font-size="14.17" text-anchor="start" textLength="25.32" lengthAdjust="spacingAndGlyphs">600</text>
<text x="449.50" y="486.29" font-size="14.17" text-anchor="start" textLength="25.32" lengthAdjust="spacingAndGlyphs">700</text>
<text x="449.50" y="451.76" font-size="14.17" text-anchor="start" textLength="25.32" lengthAdjust="spacingAndGlyphs">800</text>
<text x="493.20" y="578.40" font-size="14.17" text-anchor="middle" textLength="22.64" lengthAdjust="spacingAndGlyphs" transform="rotate(-90 493.20 578.40)">|E|²</text>
<text x="1068.60" y="728.00" font-size="14.17" text-anchor="start" textLength="8.44" lengthAdjust="spacingAndGlyphs">0</text>
<text x="1068.60" y="667.42" font-size="14.17" text-anchor="start" textLength="25.32" lengthAdjust="spacingAndGlyphs">200</text>
<text x="1068.60" y="606.84" font-size="14.17" text-anchor="start" textLength="25.32" lengthAdjust="spacingAndGlyphs">400</text>
<text x="1068.60" y="546.26" font-size="14.17" text-anchor="start" textLength="25.32" lengthAdjust="spacingAndGlyphs">600</text>
<text x="1068.60" y="485.68" font-size="14.17" text-anchor="start" textLength="25.32" lengthAdjust="spacingAndGlyphs">800</text>
<text x="1112.70" y="578.40" font-size="14.17" text-anchor="middle" textLength="22.64" lengthAdjust="spacingAndGlyphs" transform="rotate(-90 1112.70 578.40)">|E|²</text>
</g>
</svg>
</body></html>
